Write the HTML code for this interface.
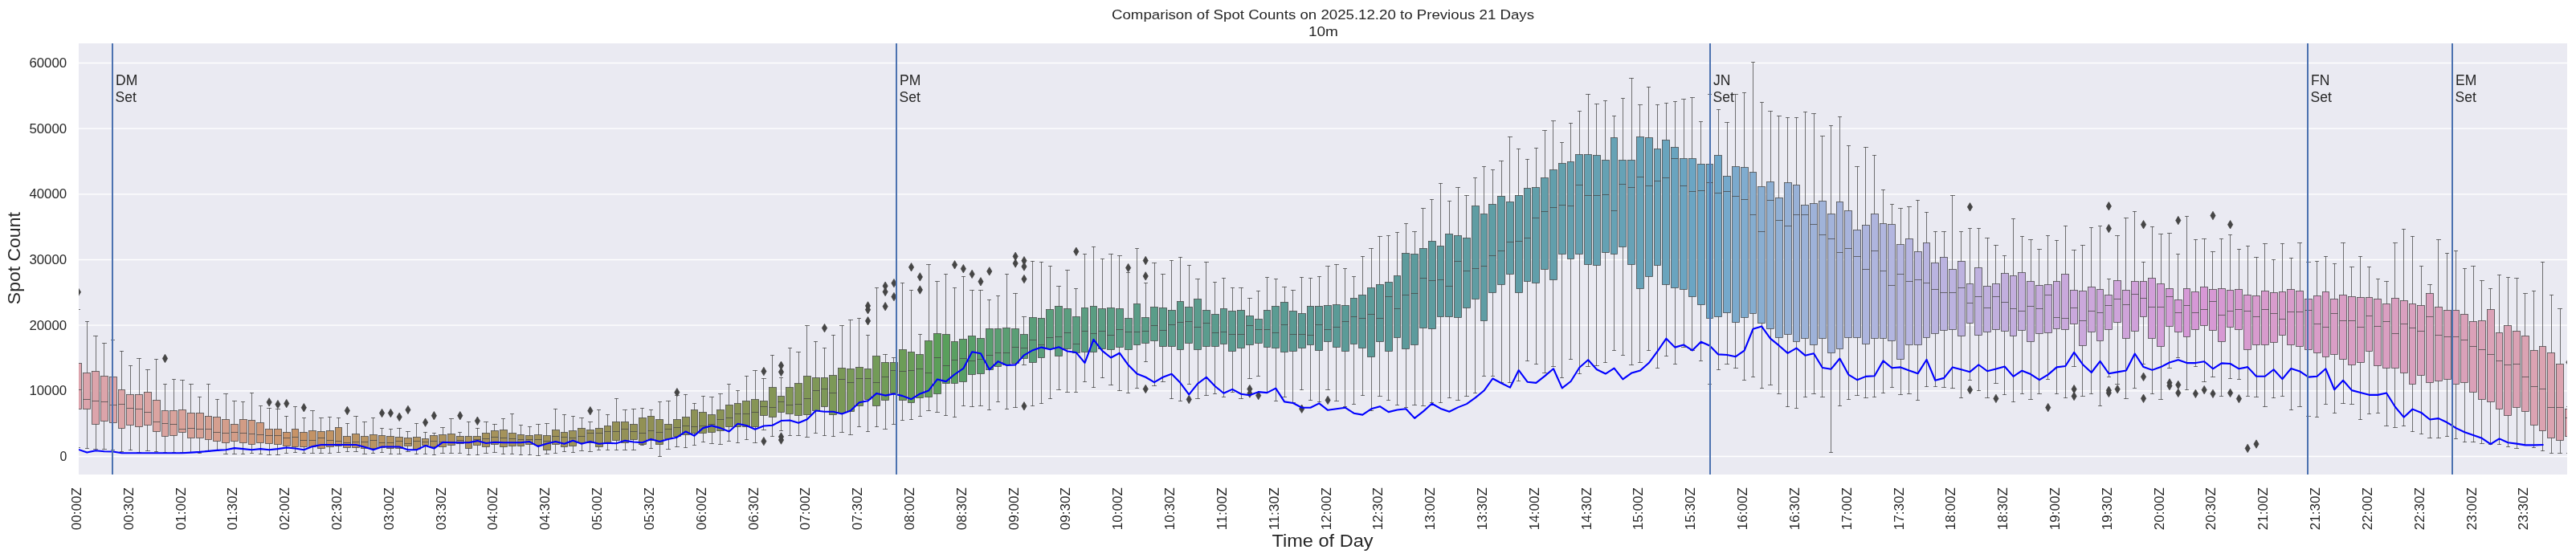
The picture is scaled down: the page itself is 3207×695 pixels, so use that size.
<!DOCTYPE html>
<html><head><meta charset="utf-8"><title>Spot Counts</title><style>html,body{margin:0;padding:0;background:#fff;width:3207px;height:695px;overflow:hidden}</style></head><body>
<svg width="3207" height="695" viewBox="0 0 3207 695" style="display:block;will-change:transform">
<defs><clipPath id="pc"><rect x="98" y="54" width="3098" height="537"/></clipPath></defs>
<rect x="0" y="0" width="3207" height="695" fill="#ffffff"/>
<rect x="98" y="54" width="3098" height="537" fill="#eaeaf2"/>
<line x1="98" x2="3196" y1="568.50" y2="568.50" stroke="#ffffff" stroke-width="1.4"/>
<line x1="98" x2="3196" y1="486.83" y2="486.83" stroke="#ffffff" stroke-width="1.4"/>
<line x1="98" x2="3196" y1="405.17" y2="405.17" stroke="#ffffff" stroke-width="1.4"/>
<line x1="98" x2="3196" y1="323.50" y2="323.50" stroke="#ffffff" stroke-width="1.4"/>
<line x1="98" x2="3196" y1="241.83" y2="241.83" stroke="#ffffff" stroke-width="1.4"/>
<line x1="98" x2="3196" y1="160.16" y2="160.16" stroke="#ffffff" stroke-width="1.4"/>
<line x1="98" x2="3196" y1="78.50" y2="78.50" stroke="#ffffff" stroke-width="1.4"/>
<g clip-path="url(#pc)">
<path d="M97.5 452.5V385.5M95.5 385.5H99.5M97.5 509.5V557.5M95.5 557.5H99.5" stroke="#454545" stroke-width="0.75" stroke-linecap="square" fill="none"/>
<rect x="93.5" y="452.5" width="8.0" height="57.0" fill="#dca4ad" stroke="#454545" stroke-width="0.75"/>
<path d="M93.5 485.5H101.5" stroke="#454545" stroke-width="0.75"/>
<path d="M97.45 358.55L100.55 363.75L97.45 368.95L94.35 363.75Z" fill="#454545" stroke="#454545" stroke-width="0.8" stroke-linejoin="round"/>
<path d="M108.5 464.5V400.5M106.5 400.5H110.5M108.5 509.5V558.5M106.5 558.5H110.5" stroke="#454545" stroke-width="0.75" stroke-linecap="square" fill="none"/>
<rect x="103.5" y="464.5" width="9.0" height="45.0" fill="#dca4ac" stroke="#454545" stroke-width="0.75"/>
<path d="M103.5 497.5H112.5" stroke="#454545" stroke-width="0.75"/>
<path d="M119.5 462.5V418.5M116.5 418.5H121.5M119.5 528.5V559.5M116.5 559.5H121.5" stroke="#454545" stroke-width="0.75" stroke-linecap="square" fill="none"/>
<rect x="114.5" y="462.5" width="9.0" height="66.0" fill="#dca4ab" stroke="#454545" stroke-width="0.75"/>
<path d="M114.5 499.5H123.5" stroke="#454545" stroke-width="0.75"/>
<path d="M129.5 468.5V427.5M127.5 427.5H132.5M129.5 524.5V559.5M127.5 559.5H132.5" stroke="#454545" stroke-width="0.75" stroke-linecap="square" fill="none"/>
<rect x="125.5" y="468.5" width="9.0" height="56.0" fill="#dca4aa" stroke="#454545" stroke-width="0.75"/>
<path d="M125.5 500.5H134.5" stroke="#454545" stroke-width="0.75"/>
<path d="M140.5 469.5V423.5M138.5 423.5H142.5M140.5 526.5V560.5M138.5 560.5H142.5" stroke="#454545" stroke-width="0.75" stroke-linecap="square" fill="none"/>
<rect x="136.5" y="469.5" width="9.0" height="57.0" fill="#dca5a8" stroke="#454545" stroke-width="0.75"/>
<path d="M136.5 504.5H145.5" stroke="#454545" stroke-width="0.75"/>
<path d="M151.5 485.5V437.5M149.5 437.5H153.5M151.5 533.5V562.5M149.5 562.5H153.5" stroke="#454545" stroke-width="0.75" stroke-linecap="square" fill="none"/>
<rect x="147.5" y="485.5" width="8.0" height="48.0" fill="#dca5a7" stroke="#454545" stroke-width="0.75"/>
<path d="M147.5 503.5H155.5" stroke="#454545" stroke-width="0.75"/>
<path d="M162.5 491.5V455.5M160.5 455.5H164.5M162.5 529.5V560.5M160.5 560.5H164.5" stroke="#454545" stroke-width="0.75" stroke-linecap="square" fill="none"/>
<rect x="157.5" y="491.5" width="9.0" height="38.0" fill="#dca5a6" stroke="#454545" stroke-width="0.75"/>
<path d="M157.5 508.5H166.5" stroke="#454545" stroke-width="0.75"/>
<path d="M173.5 491.5V446.5M170.5 446.5H175.5M173.5 531.5V563.5M170.5 563.5H175.5" stroke="#454545" stroke-width="0.75" stroke-linecap="square" fill="none"/>
<rect x="168.5" y="491.5" width="9.0" height="40.0" fill="#dca5a5" stroke="#454545" stroke-width="0.75"/>
<path d="M168.5 509.5H177.5" stroke="#454545" stroke-width="0.75"/>
<path d="M183.5 488.5V460.5M181.5 460.5H186.5M183.5 529.5V561.5M181.5 561.5H186.5" stroke="#454545" stroke-width="0.75" stroke-linecap="square" fill="none"/>
<rect x="179.5" y="488.5" width="9.0" height="41.0" fill="#dba4a3" stroke="#454545" stroke-width="0.75"/>
<path d="M179.5 513.5H188.5" stroke="#454545" stroke-width="0.75"/>
<path d="M194.5 498.5V447.5M192.5 447.5H196.5M194.5 537.5V562.5M192.5 562.5H196.5" stroke="#454545" stroke-width="0.75" stroke-linecap="square" fill="none"/>
<rect x="190.5" y="498.5" width="9.0" height="39.0" fill="#dba4a1" stroke="#454545" stroke-width="0.75"/>
<path d="M190.5 525.5H199.5" stroke="#454545" stroke-width="0.75"/>
<path d="M205.5 511.5V478.5M203.5 478.5H207.5M205.5 543.5V563.5M203.5 563.5H207.5" stroke="#454545" stroke-width="0.75" stroke-linecap="square" fill="none"/>
<rect x="201.5" y="511.5" width="8.0" height="32.0" fill="#daa39f" stroke="#454545" stroke-width="0.75"/>
<path d="M201.5 527.5H209.5" stroke="#454545" stroke-width="0.75"/>
<path d="M205.48 441.26L208.58 446.46L205.48 451.66L202.38 446.46Z" fill="#454545" stroke="#454545" stroke-width="0.8" stroke-linejoin="round"/>
<path d="M216.5 511.5V472.5M214.5 472.5H218.5M216.5 542.5V563.5M214.5 563.5H218.5" stroke="#454545" stroke-width="0.75" stroke-linecap="square" fill="none"/>
<rect x="211.5" y="511.5" width="9.0" height="31.0" fill="#d9a39c" stroke="#454545" stroke-width="0.75"/>
<path d="M211.5 528.5H220.5" stroke="#454545" stroke-width="0.75"/>
<path d="M227.5 510.5V473.5M224.5 473.5H229.5M227.5 538.5V563.5M224.5 563.5H229.5" stroke="#454545" stroke-width="0.75" stroke-linecap="square" fill="none"/>
<rect x="222.5" y="510.5" width="9.0" height="28.0" fill="#d9a29a" stroke="#454545" stroke-width="0.75"/>
<path d="M222.5 534.5H231.5" stroke="#454545" stroke-width="0.75"/>
<path d="M237.5 514.5V478.5M235.5 478.5H240.5M237.5 545.5V563.5M235.5 563.5H240.5" stroke="#454545" stroke-width="0.75" stroke-linecap="square" fill="none"/>
<rect x="233.5" y="514.5" width="9.0" height="31.0" fill="#d8a197" stroke="#454545" stroke-width="0.75"/>
<path d="M233.5 533.5H242.5" stroke="#454545" stroke-width="0.75"/>
<path d="M248.5 514.5V494.5M246.5 494.5H250.5M248.5 545.5V564.5M246.5 564.5H250.5" stroke="#454545" stroke-width="0.75" stroke-linecap="square" fill="none"/>
<rect x="244.5" y="514.5" width="9.0" height="31.0" fill="#d7a195" stroke="#454545" stroke-width="0.75"/>
<path d="M244.5 534.5H253.5" stroke="#454545" stroke-width="0.75"/>
<path d="M259.5 518.5V478.5M257.5 478.5H261.5M259.5 547.5V562.5M257.5 562.5H261.5" stroke="#454545" stroke-width="0.75" stroke-linecap="square" fill="none"/>
<rect x="255.5" y="518.5" width="8.0" height="29.0" fill="#d6a092" stroke="#454545" stroke-width="0.75"/>
<path d="M255.5 534.5H263.5" stroke="#454545" stroke-width="0.75"/>
<path d="M270.5 519.5V497.5M268.5 497.5H272.5M270.5 549.5V561.5M268.5 561.5H272.5" stroke="#454545" stroke-width="0.75" stroke-linecap="square" fill="none"/>
<rect x="265.5" y="519.5" width="9.0" height="30.0" fill="#d59f8f" stroke="#454545" stroke-width="0.75"/>
<path d="M265.5 538.5H274.5" stroke="#454545" stroke-width="0.75"/>
<path d="M281.5 522.5V490.5M278.5 490.5H283.5M281.5 551.5V565.5M278.5 565.5H283.5" stroke="#454545" stroke-width="0.75" stroke-linecap="square" fill="none"/>
<rect x="276.5" y="522.5" width="9.0" height="29.0" fill="#d49e8c" stroke="#454545" stroke-width="0.75"/>
<path d="M276.5 539.5H285.5" stroke="#454545" stroke-width="0.75"/>
<path d="M291.5 528.5V499.5M289.5 499.5H294.5M291.5 549.5V565.5M289.5 565.5H294.5" stroke="#454545" stroke-width="0.75" stroke-linecap="square" fill="none"/>
<rect x="287.5" y="528.5" width="9.0" height="21.0" fill="#d39d88" stroke="#454545" stroke-width="0.75"/>
<path d="M287.5 538.5H296.5" stroke="#454545" stroke-width="0.75"/>
<path d="M302.5 522.5V500.5M300.5 500.5H304.5M302.5 551.5V565.5M300.5 565.5H304.5" stroke="#454545" stroke-width="0.75" stroke-linecap="square" fill="none"/>
<rect x="298.5" y="522.5" width="9.0" height="29.0" fill="#d29c85" stroke="#454545" stroke-width="0.75"/>
<path d="M298.5 539.5H307.5" stroke="#454545" stroke-width="0.75"/>
<path d="M313.5 523.5V489.5M311.5 489.5H315.5M313.5 553.5V564.5M311.5 564.5H315.5" stroke="#454545" stroke-width="0.75" stroke-linecap="square" fill="none"/>
<rect x="309.5" y="523.5" width="8.0" height="30.0" fill="#d09b81" stroke="#454545" stroke-width="0.75"/>
<path d="M309.5 540.5H317.5" stroke="#454545" stroke-width="0.75"/>
<path d="M324.5 526.5V505.5M322.5 505.5H326.5M324.5 551.5V565.5M322.5 565.5H326.5" stroke="#454545" stroke-width="0.75" stroke-linecap="square" fill="none"/>
<rect x="319.5" y="526.5" width="9.0" height="25.0" fill="#cf997c" stroke="#454545" stroke-width="0.75"/>
<path d="M319.5 541.5H328.5" stroke="#454545" stroke-width="0.75"/>
<path d="M335.5 534.5V508.5M332.5 508.5H337.5M335.5 552.5V566.5M332.5 566.5H337.5" stroke="#454545" stroke-width="0.75" stroke-linecap="square" fill="none"/>
<rect x="330.5" y="534.5" width="9.0" height="18.0" fill="#cd9877" stroke="#454545" stroke-width="0.75"/>
<path d="M330.5 542.5H339.5" stroke="#454545" stroke-width="0.75"/>
<path d="M335.12 495.72L338.22 500.92L335.12 506.12L332.02 500.92Z" fill="#454545" stroke="#454545" stroke-width="0.8" stroke-linejoin="round"/>
<path d="M345.5 534.5V509.5M343.5 509.5H348.5M345.5 553.5V566.5M343.5 566.5H348.5" stroke="#454545" stroke-width="0.75" stroke-linecap="square" fill="none"/>
<rect x="341.5" y="534.5" width="9.0" height="19.0" fill="#cb9671" stroke="#454545" stroke-width="0.75"/>
<path d="M341.5 542.5H350.5" stroke="#454545" stroke-width="0.75"/>
<path d="M345.92 498.44L349.02 503.64L345.92 508.84L342.82 503.64Z" fill="#454545" stroke="#454545" stroke-width="0.8" stroke-linejoin="round"/>
<path d="M356.5 538.5V518.5M354.5 518.5H358.5M356.5 555.5V564.5M354.5 564.5H358.5" stroke="#454545" stroke-width="0.75" stroke-linecap="square" fill="none"/>
<rect x="352.5" y="538.5" width="9.0" height="17.0" fill="#c9946a" stroke="#454545" stroke-width="0.75"/>
<path d="M352.5 545.5H361.5" stroke="#454545" stroke-width="0.75"/>
<path d="M356.72 497.42L359.82 502.62L356.72 507.82L353.62 502.62Z" fill="#454545" stroke="#454545" stroke-width="0.8" stroke-linejoin="round"/>
<path d="M367.5 534.5V506.5M365.5 506.5H369.5M367.5 556.5V563.5M365.5 563.5H369.5" stroke="#454545" stroke-width="0.75" stroke-linecap="square" fill="none"/>
<rect x="363.5" y="534.5" width="8.0" height="22.0" fill="#c79367" stroke="#454545" stroke-width="0.75"/>
<path d="M363.5 544.5H371.5" stroke="#454545" stroke-width="0.75"/>
<path d="M378.5 538.5V520.5M376.5 520.5H380.5M378.5 556.5V564.5M376.5 564.5H380.5" stroke="#454545" stroke-width="0.75" stroke-linecap="square" fill="none"/>
<rect x="373.5" y="538.5" width="9.0" height="18.0" fill="#c59366" stroke="#454545" stroke-width="0.75"/>
<path d="M373.5 548.5H382.5" stroke="#454545" stroke-width="0.75"/>
<path d="M378.33 502.53L381.43 507.73L378.33 512.93L375.23 507.73Z" fill="#454545" stroke="#454545" stroke-width="0.8" stroke-linejoin="round"/>
<path d="M389.5 536.5V511.5M386.5 511.5H391.5M389.5 556.5V564.5M386.5 564.5H391.5" stroke="#454545" stroke-width="0.75" stroke-linecap="square" fill="none"/>
<rect x="384.5" y="536.5" width="9.0" height="20.0" fill="#c39366" stroke="#454545" stroke-width="0.75"/>
<path d="M384.5 548.5H393.5" stroke="#454545" stroke-width="0.75"/>
<path d="M399.5 537.5V520.5M397.5 520.5H402.5M399.5 558.5V564.5M397.5 564.5H402.5" stroke="#454545" stroke-width="0.75" stroke-linecap="square" fill="none"/>
<rect x="395.5" y="537.5" width="9.0" height="21.0" fill="#c19365" stroke="#454545" stroke-width="0.75"/>
<path d="M395.5 545.5H404.5" stroke="#454545" stroke-width="0.75"/>
<path d="M410.5 536.5V519.5M408.5 519.5H412.5M410.5 556.5V564.5M408.5 564.5H412.5" stroke="#454545" stroke-width="0.75" stroke-linecap="square" fill="none"/>
<rect x="406.5" y="536.5" width="9.0" height="20.0" fill="#c09364" stroke="#454545" stroke-width="0.75"/>
<path d="M406.5 548.5H415.5" stroke="#454545" stroke-width="0.75"/>
<path d="M421.5 532.5V520.5M419.5 520.5H423.5M421.5 555.5V563.5M419.5 563.5H423.5" stroke="#454545" stroke-width="0.75" stroke-linecap="square" fill="none"/>
<rect x="417.5" y="532.5" width="8.0" height="23.0" fill="#be9364" stroke="#454545" stroke-width="0.75"/>
<path d="M417.5 549.5H425.5" stroke="#454545" stroke-width="0.75"/>
<path d="M432.5 543.5V527.5M430.5 527.5H434.5M432.5 557.5V562.5M430.5 562.5H434.5" stroke="#454545" stroke-width="0.75" stroke-linecap="square" fill="none"/>
<rect x="427.5" y="543.5" width="9.0" height="14.0" fill="#bd9363" stroke="#454545" stroke-width="0.75"/>
<path d="M427.5 551.5H436.5" stroke="#454545" stroke-width="0.75"/>
<path d="M432.34 506.27L435.44 511.47L432.34 516.67L429.24 511.47Z" fill="#454545" stroke="#454545" stroke-width="0.8" stroke-linejoin="round"/>
<path d="M443.5 540.5V518.5M440.5 518.5H445.5M443.5 557.5V562.5M440.5 562.5H445.5" stroke="#454545" stroke-width="0.75" stroke-linecap="square" fill="none"/>
<rect x="438.5" y="540.5" width="9.0" height="17.0" fill="#bb9463" stroke="#454545" stroke-width="0.75"/>
<path d="M438.5 550.5H447.5" stroke="#454545" stroke-width="0.75"/>
<path d="M453.5 543.5V525.5M451.5 525.5H456.5M453.5 558.5V565.5M451.5 565.5H456.5" stroke="#454545" stroke-width="0.75" stroke-linecap="square" fill="none"/>
<rect x="449.5" y="543.5" width="9.0" height="15.0" fill="#b99462" stroke="#454545" stroke-width="0.75"/>
<path d="M449.5 550.5H458.5" stroke="#454545" stroke-width="0.75"/>
<path d="M464.5 541.5V520.5M462.5 520.5H466.5M464.5 558.5V564.5M462.5 564.5H466.5" stroke="#454545" stroke-width="0.75" stroke-linecap="square" fill="none"/>
<rect x="460.5" y="541.5" width="9.0" height="17.0" fill="#b89462" stroke="#454545" stroke-width="0.75"/>
<path d="M460.5 548.5H469.5" stroke="#454545" stroke-width="0.75"/>
<path d="M475.5 542.5V533.5M473.5 533.5H477.5M475.5 557.5V563.5M473.5 563.5H477.5" stroke="#454545" stroke-width="0.75" stroke-linecap="square" fill="none"/>
<rect x="471.5" y="542.5" width="8.0" height="15.0" fill="#b79361" stroke="#454545" stroke-width="0.75"/>
<path d="M471.5 551.5H479.5" stroke="#454545" stroke-width="0.75"/>
<path d="M475.56 509.33L478.66 514.53L475.56 519.73L472.45 514.53Z" fill="#454545" stroke="#454545" stroke-width="0.8" stroke-linejoin="round"/>
<path d="M486.5 543.5V534.5M484.5 534.5H488.5M486.5 558.5V565.5M484.5 565.5H488.5" stroke="#454545" stroke-width="0.75" stroke-linecap="square" fill="none"/>
<rect x="481.5" y="543.5" width="9.0" height="15.0" fill="#b59361" stroke="#454545" stroke-width="0.75"/>
<path d="M481.5 551.5H490.5" stroke="#454545" stroke-width="0.75"/>
<path d="M486.36 509.33L489.46 514.53L486.36 519.73L483.26 514.53Z" fill="#454545" stroke="#454545" stroke-width="0.8" stroke-linejoin="round"/>
<path d="M497.5 544.5V533.5M494.5 533.5H499.5M497.5 558.5V565.5M494.5 565.5H499.5" stroke="#454545" stroke-width="0.75" stroke-linecap="square" fill="none"/>
<rect x="492.5" y="544.5" width="9.0" height="14.0" fill="#b49360" stroke="#454545" stroke-width="0.75"/>
<path d="M492.5 549.5H501.5" stroke="#454545" stroke-width="0.75"/>
<path d="M497.16 514.10L500.26 519.30L497.16 524.50L494.06 519.30Z" fill="#454545" stroke="#454545" stroke-width="0.8" stroke-linejoin="round"/>
<path d="M507.5 545.5V537.5M505.5 537.5H510.5M507.5 555.5V562.5M505.5 562.5H510.5" stroke="#454545" stroke-width="0.75" stroke-linecap="square" fill="none"/>
<rect x="503.5" y="545.5" width="9.0" height="10.0" fill="#b29360" stroke="#454545" stroke-width="0.75"/>
<path d="M503.5 552.5H512.5" stroke="#454545" stroke-width="0.75"/>
<path d="M507.96 505.25L511.06 510.45L507.96 515.65L504.86 510.45Z" fill="#454545" stroke="#454545" stroke-width="0.8" stroke-linejoin="round"/>
<path d="M518.5 544.5V527.5M516.5 527.5H520.5M518.5 559.5V565.5M516.5 565.5H520.5" stroke="#454545" stroke-width="0.75" stroke-linecap="square" fill="none"/>
<rect x="514.5" y="544.5" width="9.0" height="15.0" fill="#b1935f" stroke="#454545" stroke-width="0.75"/>
<path d="M514.5 549.5H523.5" stroke="#454545" stroke-width="0.75"/>
<path d="M529.5 546.5V538.5M527.5 538.5H531.5M529.5 554.5V565.5M527.5 565.5H531.5" stroke="#454545" stroke-width="0.75" stroke-linecap="square" fill="none"/>
<rect x="525.5" y="546.5" width="8.0" height="8.0" fill="#b0935f" stroke="#454545" stroke-width="0.75"/>
<path d="M525.5 550.5H533.5" stroke="#454545" stroke-width="0.75"/>
<path d="M529.57 520.97L532.67 526.17L529.57 531.37L526.47 526.17Z" fill="#454545" stroke="#454545" stroke-width="0.8" stroke-linejoin="round"/>
<path d="M540.5 542.5V539.5M538.5 539.5H542.5M540.5 556.5V566.5M538.5 566.5H542.5" stroke="#454545" stroke-width="0.75" stroke-linecap="square" fill="none"/>
<rect x="535.5" y="542.5" width="9.0" height="14.0" fill="#af935f" stroke="#454545" stroke-width="0.75"/>
<path d="M535.5 549.5H544.5" stroke="#454545" stroke-width="0.75"/>
<path d="M540.37 512.51L543.47 517.71L540.37 522.91L537.27 517.71Z" fill="#454545" stroke="#454545" stroke-width="0.8" stroke-linejoin="round"/>
<path d="M551.5 541.5V532.5M548.5 532.5H553.5M551.5 556.5V564.5M548.5 564.5H553.5" stroke="#454545" stroke-width="0.75" stroke-linecap="square" fill="none"/>
<rect x="546.5" y="541.5" width="9.0" height="15.0" fill="#ad935e" stroke="#454545" stroke-width="0.75"/>
<path d="M546.5 550.5H555.5" stroke="#454545" stroke-width="0.75"/>
<path d="M561.5 540.5V521.5M559.5 521.5H564.5M561.5 554.5V564.5M559.5 564.5H564.5" stroke="#454545" stroke-width="0.75" stroke-linecap="square" fill="none"/>
<rect x="557.5" y="540.5" width="9.0" height="14.0" fill="#ac935e" stroke="#454545" stroke-width="0.75"/>
<path d="M557.5 550.5H566.5" stroke="#454545" stroke-width="0.75"/>
<path d="M572.5 543.5V538.5M570.5 538.5H574.5M572.5 552.5V564.5M570.5 564.5H574.5" stroke="#454545" stroke-width="0.75" stroke-linecap="square" fill="none"/>
<rect x="568.5" y="543.5" width="9.0" height="9.0" fill="#ab935d" stroke="#454545" stroke-width="0.75"/>
<path d="M568.5 548.5H577.5" stroke="#454545" stroke-width="0.75"/>
<path d="M572.78 512.51L575.88 517.71L572.78 522.91L569.68 517.71Z" fill="#454545" stroke="#454545" stroke-width="0.8" stroke-linejoin="round"/>
<path d="M583.5 543.5V525.5M581.5 525.5H585.5M583.5 558.5V566.5M581.5 566.5H585.5" stroke="#454545" stroke-width="0.75" stroke-linecap="square" fill="none"/>
<rect x="579.5" y="543.5" width="8.0" height="15.0" fill="#aa935d" stroke="#454545" stroke-width="0.75"/>
<path d="M579.5 550.5H587.5" stroke="#454545" stroke-width="0.75"/>
<path d="M594.5 543.5V533.5M592.5 533.5H596.5M594.5 554.5V566.5M592.5 566.5H596.5" stroke="#454545" stroke-width="0.75" stroke-linecap="square" fill="none"/>
<rect x="589.5" y="543.5" width="9.0" height="11.0" fill="#a8935c" stroke="#454545" stroke-width="0.75"/>
<path d="M589.5 547.5H598.5" stroke="#454545" stroke-width="0.75"/>
<path d="M594.39 519.04L597.49 524.24L594.39 529.44L591.29 524.24Z" fill="#454545" stroke="#454545" stroke-width="0.8" stroke-linejoin="round"/>
<path d="M605.5 539.5V525.5M602.5 525.5H607.5M605.5 556.5V564.5M602.5 564.5H607.5" stroke="#454545" stroke-width="0.75" stroke-linecap="square" fill="none"/>
<rect x="600.5" y="539.5" width="9.0" height="17.0" fill="#a7935c" stroke="#454545" stroke-width="0.75"/>
<path d="M600.5 546.5H609.5" stroke="#454545" stroke-width="0.75"/>
<path d="M615.5 536.5V528.5M613.5 528.5H618.5M615.5 553.5V563.5M613.5 563.5H618.5" stroke="#454545" stroke-width="0.75" stroke-linecap="square" fill="none"/>
<rect x="611.5" y="536.5" width="9.0" height="17.0" fill="#a6935c" stroke="#454545" stroke-width="0.75"/>
<path d="M611.5 544.5H620.5" stroke="#454545" stroke-width="0.75"/>
<path d="M626.5 535.5V521.5M624.5 521.5H628.5M626.5 556.5V565.5M624.5 565.5H628.5" stroke="#454545" stroke-width="0.75" stroke-linecap="square" fill="none"/>
<rect x="622.5" y="535.5" width="9.0" height="21.0" fill="#a5935b" stroke="#454545" stroke-width="0.75"/>
<path d="M622.5 545.5H631.5" stroke="#454545" stroke-width="0.75"/>
<path d="M637.5 539.5V515.5M635.5 515.5H639.5M637.5 555.5V565.5M635.5 565.5H639.5" stroke="#454545" stroke-width="0.75" stroke-linecap="square" fill="none"/>
<rect x="633.5" y="539.5" width="9.0" height="16.0" fill="#a4935b" stroke="#454545" stroke-width="0.75"/>
<path d="M633.5 546.5H642.5" stroke="#454545" stroke-width="0.75"/>
<path d="M648.5 541.5V529.5M646.5 529.5H650.5M648.5 555.5V566.5M646.5 566.5H650.5" stroke="#454545" stroke-width="0.75" stroke-linecap="square" fill="none"/>
<rect x="644.5" y="541.5" width="8.0" height="14.0" fill="#a2925a" stroke="#454545" stroke-width="0.75"/>
<path d="M644.5 547.5H652.5" stroke="#454545" stroke-width="0.75"/>
<path d="M659.5 542.5V531.5M657.5 531.5H661.5M659.5 553.5V566.5M657.5 566.5H661.5" stroke="#454545" stroke-width="0.75" stroke-linecap="square" fill="none"/>
<rect x="654.5" y="542.5" width="9.0" height="11.0" fill="#a1925a" stroke="#454545" stroke-width="0.75"/>
<path d="M654.5 547.5H663.5" stroke="#454545" stroke-width="0.75"/>
<path d="M670.5 541.5V528.5M667.5 528.5H672.5M670.5 554.5V567.5M667.5 567.5H672.5" stroke="#454545" stroke-width="0.75" stroke-linecap="square" fill="none"/>
<rect x="665.5" y="541.5" width="9.0" height="13.0" fill="#a0925a" stroke="#454545" stroke-width="0.75"/>
<path d="M665.5 547.5H674.5" stroke="#454545" stroke-width="0.75"/>
<path d="M680.5 542.5V527.5M678.5 527.5H683.5M680.5 560.5V565.5M678.5 565.5H683.5" stroke="#454545" stroke-width="0.75" stroke-linecap="square" fill="none"/>
<rect x="676.5" y="542.5" width="9.0" height="18.0" fill="#9f9259" stroke="#454545" stroke-width="0.75"/>
<path d="M676.5 549.5H685.5" stroke="#454545" stroke-width="0.75"/>
<path d="M691.5 535.5V509.5M689.5 509.5H693.5M691.5 553.5V564.5M689.5 564.5H693.5" stroke="#454545" stroke-width="0.75" stroke-linecap="square" fill="none"/>
<rect x="687.5" y="535.5" width="9.0" height="18.0" fill="#9e9259" stroke="#454545" stroke-width="0.75"/>
<path d="M687.5 543.5H696.5" stroke="#454545" stroke-width="0.75"/>
<path d="M702.5 538.5V516.5M700.5 516.5H704.5M702.5 556.5V562.5M700.5 562.5H704.5" stroke="#454545" stroke-width="0.75" stroke-linecap="square" fill="none"/>
<rect x="698.5" y="538.5" width="8.0" height="18.0" fill="#9d9258" stroke="#454545" stroke-width="0.75"/>
<path d="M698.5 544.5H706.5" stroke="#454545" stroke-width="0.75"/>
<path d="M713.5 536.5V518.5M711.5 518.5H715.5M713.5 555.5V563.5M711.5 563.5H715.5" stroke="#454545" stroke-width="0.75" stroke-linecap="square" fill="none"/>
<rect x="708.5" y="536.5" width="9.0" height="19.0" fill="#9b9258" stroke="#454545" stroke-width="0.75"/>
<path d="M708.5 545.5H717.5" stroke="#454545" stroke-width="0.75"/>
<path d="M724.5 533.5V520.5M721.5 520.5H726.5M724.5 551.5V561.5M721.5 561.5H726.5" stroke="#454545" stroke-width="0.75" stroke-linecap="square" fill="none"/>
<rect x="719.5" y="533.5" width="9.0" height="18.0" fill="#9a9258" stroke="#454545" stroke-width="0.75"/>
<path d="M719.5 543.5H728.5" stroke="#454545" stroke-width="0.75"/>
<path d="M734.5 535.5V525.5M732.5 525.5H737.5M734.5 551.5V562.5M732.5 562.5H737.5" stroke="#454545" stroke-width="0.75" stroke-linecap="square" fill="none"/>
<rect x="730.5" y="535.5" width="9.0" height="16.0" fill="#999157" stroke="#454545" stroke-width="0.75"/>
<path d="M730.5 539.5H739.5" stroke="#454545" stroke-width="0.75"/>
<path d="M734.83 506.46L737.93 511.66L734.83 516.86L731.73 511.66Z" fill="#454545" stroke="#454545" stroke-width="0.8" stroke-linejoin="round"/>
<path d="M745.5 533.5V510.5M743.5 510.5H747.5M745.5 556.5V560.5M743.5 560.5H747.5" stroke="#454545" stroke-width="0.75" stroke-linecap="square" fill="none"/>
<rect x="741.5" y="533.5" width="9.0" height="23.0" fill="#989157" stroke="#454545" stroke-width="0.75"/>
<path d="M741.5 539.5H750.5" stroke="#454545" stroke-width="0.75"/>
<path d="M756.5 530.5V516.5M754.5 516.5H758.5M756.5 551.5V560.5M754.5 560.5H758.5" stroke="#454545" stroke-width="0.75" stroke-linecap="square" fill="none"/>
<rect x="752.5" y="530.5" width="8.0" height="21.0" fill="#979156" stroke="#454545" stroke-width="0.75"/>
<path d="M752.5 537.5H760.5" stroke="#454545" stroke-width="0.75"/>
<path d="M767.5 525.5V496.5M765.5 496.5H769.5M767.5 548.5V560.5M765.5 560.5H769.5" stroke="#454545" stroke-width="0.75" stroke-linecap="square" fill="none"/>
<rect x="762.5" y="525.5" width="9.0" height="23.0" fill="#959156" stroke="#454545" stroke-width="0.75"/>
<path d="M762.5 537.5H771.5" stroke="#454545" stroke-width="0.75"/>
<path d="M778.5 525.5V510.5M775.5 510.5H780.5M778.5 551.5V560.5M775.5 560.5H780.5" stroke="#454545" stroke-width="0.75" stroke-linecap="square" fill="none"/>
<rect x="773.5" y="525.5" width="9.0" height="26.0" fill="#949156" stroke="#454545" stroke-width="0.75"/>
<path d="M773.5 534.5H782.5" stroke="#454545" stroke-width="0.75"/>
<path d="M788.5 528.5V509.5M786.5 509.5H791.5M788.5 547.5V560.5M786.5 560.5H791.5" stroke="#454545" stroke-width="0.75" stroke-linecap="square" fill="none"/>
<rect x="784.5" y="528.5" width="9.0" height="19.0" fill="#939155" stroke="#454545" stroke-width="0.75"/>
<path d="M784.5 537.5H793.5" stroke="#454545" stroke-width="0.75"/>
<path d="M799.5 520.5V508.5M797.5 508.5H801.5M799.5 553.5V554.5M797.5 554.5H801.5" stroke="#454545" stroke-width="0.75" stroke-linecap="square" fill="none"/>
<rect x="795.5" y="520.5" width="9.0" height="33.0" fill="#929155" stroke="#454545" stroke-width="0.75"/>
<path d="M795.5 539.5H804.5" stroke="#454545" stroke-width="0.75"/>
<path d="M810.5 518.5V510.5M808.5 510.5H812.5M810.5 548.5V558.5M808.5 558.5H812.5" stroke="#454545" stroke-width="0.75" stroke-linecap="square" fill="none"/>
<rect x="806.5" y="518.5" width="8.0" height="30.0" fill="#909054" stroke="#454545" stroke-width="0.75"/>
<path d="M806.5 536.5H814.5" stroke="#454545" stroke-width="0.75"/>
<path d="M821.5 522.5V500.5M819.5 500.5H823.5M821.5 553.5V568.5M819.5 568.5H823.5" stroke="#454545" stroke-width="0.75" stroke-linecap="square" fill="none"/>
<rect x="816.5" y="522.5" width="9.0" height="31.0" fill="#909154" stroke="#454545" stroke-width="0.75"/>
<path d="M816.5 538.5H825.5" stroke="#454545" stroke-width="0.75"/>
<path d="M832.5 528.5V499.5M829.5 499.5H834.5M832.5 546.5V559.5M829.5 559.5H834.5" stroke="#454545" stroke-width="0.75" stroke-linecap="square" fill="none"/>
<rect x="827.5" y="528.5" width="9.0" height="18.0" fill="#8f9155" stroke="#454545" stroke-width="0.75"/>
<path d="M827.5 534.5H836.5" stroke="#454545" stroke-width="0.75"/>
<path d="M842.5 522.5V492.5M840.5 492.5H845.5M842.5 543.5V556.5M840.5 556.5H845.5" stroke="#454545" stroke-width="0.75" stroke-linecap="square" fill="none"/>
<rect x="838.5" y="522.5" width="9.0" height="21.0" fill="#8e9255" stroke="#454545" stroke-width="0.75"/>
<path d="M838.5 532.5H847.5" stroke="#454545" stroke-width="0.75"/>
<path d="M842.86 483.48L845.96 488.68L842.86 493.88L839.76 488.68Z" fill="#454545" stroke="#454545" stroke-width="0.8" stroke-linejoin="round"/>
<path d="M853.5 519.5V491.5M851.5 491.5H855.5M853.5 541.5V557.5M851.5 557.5H855.5" stroke="#454545" stroke-width="0.75" stroke-linecap="square" fill="none"/>
<rect x="849.5" y="519.5" width="9.0" height="22.0" fill="#8d9255" stroke="#454545" stroke-width="0.75"/>
<path d="M849.5 530.5H858.5" stroke="#454545" stroke-width="0.75"/>
<path d="M864.5 510.5V502.5M862.5 502.5H866.5M864.5 539.5V554.5M862.5 554.5H866.5" stroke="#454545" stroke-width="0.75" stroke-linecap="square" fill="none"/>
<rect x="860.5" y="510.5" width="8.0" height="29.0" fill="#8d9255" stroke="#454545" stroke-width="0.75"/>
<path d="M860.5 531.5H868.5" stroke="#454545" stroke-width="0.75"/>
<path d="M875.5 513.5V493.5M873.5 493.5H877.5M875.5 539.5V550.5M873.5 550.5H877.5" stroke="#454545" stroke-width="0.75" stroke-linecap="square" fill="none"/>
<rect x="870.5" y="513.5" width="9.0" height="26.0" fill="#8c9355" stroke="#454545" stroke-width="0.75"/>
<path d="M870.5 530.5H879.5" stroke="#454545" stroke-width="0.75"/>
<path d="M886.5 516.5V494.5M883.5 494.5H888.5M886.5 538.5V552.5M883.5 552.5H888.5" stroke="#454545" stroke-width="0.75" stroke-linecap="square" fill="none"/>
<rect x="881.5" y="516.5" width="9.0" height="22.0" fill="#8b9355" stroke="#454545" stroke-width="0.75"/>
<path d="M881.5 528.5H890.5" stroke="#454545" stroke-width="0.75"/>
<path d="M896.5 510.5V490.5M894.5 490.5H899.5M896.5 536.5V553.5M894.5 553.5H899.5" stroke="#454545" stroke-width="0.75" stroke-linecap="square" fill="none"/>
<rect x="892.5" y="510.5" width="9.0" height="26.0" fill="#8a9355" stroke="#454545" stroke-width="0.75"/>
<path d="M892.5 522.5H901.5" stroke="#454545" stroke-width="0.75"/>
<path d="M907.5 504.5V478.5M905.5 478.5H909.5M907.5 531.5V549.5M905.5 549.5H909.5" stroke="#454545" stroke-width="0.75" stroke-linecap="square" fill="none"/>
<rect x="903.5" y="504.5" width="9.0" height="27.0" fill="#899455" stroke="#454545" stroke-width="0.75"/>
<path d="M903.5 520.5H912.5" stroke="#454545" stroke-width="0.75"/>
<path d="M918.5 502.5V486.5M916.5 486.5H920.5M918.5 531.5V551.5M916.5 551.5H920.5" stroke="#454545" stroke-width="0.75" stroke-linecap="square" fill="none"/>
<rect x="914.5" y="502.5" width="8.0" height="29.0" fill="#889456" stroke="#454545" stroke-width="0.75"/>
<path d="M914.5 515.5H922.5" stroke="#454545" stroke-width="0.75"/>
<path d="M929.5 499.5V468.5M927.5 468.5H931.5M929.5 531.5V547.5M927.5 547.5H931.5" stroke="#454545" stroke-width="0.75" stroke-linecap="square" fill="none"/>
<rect x="924.5" y="499.5" width="9.0" height="32.0" fill="#879556" stroke="#454545" stroke-width="0.75"/>
<path d="M924.5 515.5H933.5" stroke="#454545" stroke-width="0.75"/>
<path d="M940.5 497.5V461.5M937.5 461.5H942.5M940.5 531.5V551.5M937.5 551.5H942.5" stroke="#454545" stroke-width="0.75" stroke-linecap="square" fill="none"/>
<rect x="935.5" y="497.5" width="9.0" height="34.0" fill="#869556" stroke="#454545" stroke-width="0.75"/>
<path d="M935.5 513.5H944.5" stroke="#454545" stroke-width="0.75"/>
<path d="M950.5 499.5V471.5M948.5 471.5H953.5M950.5 517.5V535.5M948.5 535.5H953.5" stroke="#454545" stroke-width="0.75" stroke-linecap="square" fill="none"/>
<rect x="946.5" y="499.5" width="9.0" height="18.0" fill="#859556" stroke="#454545" stroke-width="0.75"/>
<path d="M946.5 506.5H955.5" stroke="#454545" stroke-width="0.75"/>
<path d="M950.89 457.35L953.99 462.55L950.89 467.75L947.79 462.55Z" fill="#454545" stroke="#454545" stroke-width="0.8" stroke-linejoin="round"/>
<path d="M950.89 544.44L953.99 549.64L950.89 554.84L947.79 549.64Z" fill="#454545" stroke="#454545" stroke-width="0.8" stroke-linejoin="round"/>
<path d="M961.5 482.5V442.5M959.5 442.5H963.5M961.5 519.5V543.5M959.5 543.5H963.5" stroke="#454545" stroke-width="0.75" stroke-linecap="square" fill="none"/>
<rect x="957.5" y="482.5" width="9.0" height="37.0" fill="#849656" stroke="#454545" stroke-width="0.75"/>
<path d="M957.5 507.5H966.5" stroke="#454545" stroke-width="0.75"/>
<path d="M972.5 493.5V470.5M970.5 470.5H974.5M972.5 513.5V536.5M970.5 536.5H974.5" stroke="#454545" stroke-width="0.75" stroke-linecap="square" fill="none"/>
<rect x="968.5" y="493.5" width="8.0" height="20.0" fill="#839656" stroke="#454545" stroke-width="0.75"/>
<path d="M968.5 500.5H976.5" stroke="#454545" stroke-width="0.75"/>
<path d="M972.49 450.06L975.59 455.26L972.49 460.46L969.39 455.26Z" fill="#454545" stroke="#454545" stroke-width="0.8" stroke-linejoin="round"/>
<path d="M972.49 458.12L975.59 463.32L972.49 468.52L969.39 463.32Z" fill="#454545" stroke="#454545" stroke-width="0.8" stroke-linejoin="round"/>
<path d="M972.49 538.79L975.59 543.99L972.49 549.19L969.39 543.99Z" fill="#454545" stroke="#454545" stroke-width="0.8" stroke-linejoin="round"/>
<path d="M972.49 542.82L975.59 548.02L972.49 553.22L969.39 548.02Z" fill="#454545" stroke="#454545" stroke-width="0.8" stroke-linejoin="round"/>
<path d="M983.5 482.5V433.5M981.5 433.5H985.5M983.5 515.5V542.5M981.5 542.5H985.5" stroke="#454545" stroke-width="0.75" stroke-linecap="square" fill="none"/>
<rect x="978.5" y="482.5" width="9.0" height="33.0" fill="#829756" stroke="#454545" stroke-width="0.75"/>
<path d="M978.5 504.5H987.5" stroke="#454545" stroke-width="0.75"/>
<path d="M994.5 477.5V438.5M991.5 438.5H996.5M994.5 517.5V542.5M991.5 542.5H996.5" stroke="#454545" stroke-width="0.75" stroke-linecap="square" fill="none"/>
<rect x="989.5" y="477.5" width="9.0" height="40.0" fill="#819756" stroke="#454545" stroke-width="0.75"/>
<path d="M989.5 503.5H998.5" stroke="#454545" stroke-width="0.75"/>
<path d="M1004.5 468.5V405.5M1002.5 405.5H1007.5M1004.5 516.5V544.5M1002.5 544.5H1007.5" stroke="#454545" stroke-width="0.75" stroke-linecap="square" fill="none"/>
<rect x="1000.5" y="468.5" width="9.0" height="48.0" fill="#809757" stroke="#454545" stroke-width="0.75"/>
<path d="M1000.5 496.5H1009.5" stroke="#454545" stroke-width="0.75"/>
<path d="M1015.5 470.5V425.5M1013.5 425.5H1017.5M1015.5 511.5V539.5M1013.5 539.5H1017.5" stroke="#454545" stroke-width="0.75" stroke-linecap="square" fill="none"/>
<rect x="1011.5" y="470.5" width="9.0" height="41.0" fill="#7f9857" stroke="#454545" stroke-width="0.75"/>
<path d="M1011.5 486.5H1020.5" stroke="#454545" stroke-width="0.75"/>
<path d="M1026.5 470.5V433.5M1024.5 433.5H1028.5M1026.5 506.5V542.5M1024.5 542.5H1028.5" stroke="#454545" stroke-width="0.75" stroke-linecap="square" fill="none"/>
<rect x="1022.5" y="470.5" width="8.0" height="36.0" fill="#7d9857" stroke="#454545" stroke-width="0.75"/>
<path d="M1022.5 484.5H1030.5" stroke="#454545" stroke-width="0.75"/>
<path d="M1026.51 403.40L1029.61 408.60L1026.51 413.80L1023.41 408.60Z" fill="#454545" stroke="#454545" stroke-width="0.8" stroke-linejoin="round"/>
<path d="M1037.5 467.5V417.5M1035.5 417.5H1039.5M1037.5 516.5V543.5M1035.5 543.5H1039.5" stroke="#454545" stroke-width="0.75" stroke-linecap="square" fill="none"/>
<rect x="1032.5" y="467.5" width="9.0" height="49.0" fill="#7c9957" stroke="#454545" stroke-width="0.75"/>
<path d="M1032.5 489.5H1041.5" stroke="#454545" stroke-width="0.75"/>
<path d="M1048.5 458.5V405.5M1045.5 405.5H1050.5M1048.5 514.5V538.5M1045.5 538.5H1050.5" stroke="#454545" stroke-width="0.75" stroke-linecap="square" fill="none"/>
<rect x="1043.5" y="458.5" width="9.0" height="56.0" fill="#7a9957" stroke="#454545" stroke-width="0.75"/>
<path d="M1043.5 472.5H1052.5" stroke="#454545" stroke-width="0.75"/>
<path d="M1058.5 459.5V398.5M1056.5 398.5H1061.5M1058.5 512.5V541.5M1056.5 541.5H1061.5" stroke="#454545" stroke-width="0.75" stroke-linecap="square" fill="none"/>
<rect x="1054.5" y="459.5" width="9.0" height="53.0" fill="#799a57" stroke="#454545" stroke-width="0.75"/>
<path d="M1054.5 476.5H1063.5" stroke="#454545" stroke-width="0.75"/>
<path d="M1069.5 457.5V396.5M1067.5 396.5H1071.5M1069.5 505.5V531.5M1067.5 531.5H1071.5" stroke="#454545" stroke-width="0.75" stroke-linecap="square" fill="none"/>
<rect x="1065.5" y="457.5" width="9.0" height="48.0" fill="#779a57" stroke="#454545" stroke-width="0.75"/>
<path d="M1065.5 471.5H1074.5" stroke="#454545" stroke-width="0.75"/>
<path d="M1080.5 459.5V417.5M1078.5 417.5H1082.5M1080.5 497.5V537.5M1078.5 537.5H1082.5" stroke="#454545" stroke-width="0.75" stroke-linecap="square" fill="none"/>
<rect x="1076.5" y="459.5" width="8.0" height="38.0" fill="#759b58" stroke="#454545" stroke-width="0.75"/>
<path d="M1076.5 471.5H1084.5" stroke="#454545" stroke-width="0.75"/>
<path d="M1080.52 375.71L1083.62 380.91L1080.52 386.11L1077.42 380.91Z" fill="#454545" stroke="#454545" stroke-width="0.8" stroke-linejoin="round"/>
<path d="M1080.52 380.55L1083.62 385.75L1080.52 390.95L1077.42 385.75Z" fill="#454545" stroke="#454545" stroke-width="0.8" stroke-linejoin="round"/>
<path d="M1080.52 394.53L1083.62 399.73L1080.52 404.93L1077.42 399.73Z" fill="#454545" stroke="#454545" stroke-width="0.8" stroke-linejoin="round"/>
<path d="M1091.5 443.5V358.5M1089.5 358.5H1093.5M1091.5 505.5V531.5M1089.5 531.5H1093.5" stroke="#454545" stroke-width="0.75" stroke-linecap="square" fill="none"/>
<rect x="1086.5" y="443.5" width="9.0" height="62.0" fill="#739b58" stroke="#454545" stroke-width="0.75"/>
<path d="M1086.5 476.5H1095.5" stroke="#454545" stroke-width="0.75"/>
<path d="M1102.5 451.5V441.5M1099.5 441.5H1104.5M1102.5 498.5V534.5M1099.5 534.5H1104.5" stroke="#454545" stroke-width="0.75" stroke-linecap="square" fill="none"/>
<rect x="1097.5" y="451.5" width="9.0" height="47.0" fill="#719c58" stroke="#454545" stroke-width="0.75"/>
<path d="M1097.5 469.5H1106.5" stroke="#454545" stroke-width="0.75"/>
<path d="M1102.13 350.97L1105.23 356.17L1102.13 361.37L1099.03 356.17Z" fill="#454545" stroke="#454545" stroke-width="0.8" stroke-linejoin="round"/>
<path d="M1102.13 358.23L1105.23 363.43L1102.13 368.63L1099.03 363.43Z" fill="#454545" stroke="#454545" stroke-width="0.8" stroke-linejoin="round"/>
<path d="M1102.13 376.51L1105.23 381.71L1102.13 386.91L1099.03 381.71Z" fill="#454545" stroke="#454545" stroke-width="0.8" stroke-linejoin="round"/>
<path d="M1112.5 451.5V445.5M1110.5 445.5H1115.5M1112.5 489.5V528.5M1110.5 528.5H1115.5" stroke="#454545" stroke-width="0.75" stroke-linecap="square" fill="none"/>
<rect x="1108.5" y="451.5" width="9.0" height="38.0" fill="#6f9c58" stroke="#454545" stroke-width="0.75"/>
<path d="M1108.5 461.5H1117.5" stroke="#454545" stroke-width="0.75"/>
<path d="M1112.93 347.47L1116.03 352.67L1112.93 357.87L1109.83 352.67Z" fill="#454545" stroke="#454545" stroke-width="0.8" stroke-linejoin="round"/>
<path d="M1112.93 364.41L1116.03 369.61L1112.93 374.81L1109.83 369.61Z" fill="#454545" stroke="#454545" stroke-width="0.8" stroke-linejoin="round"/>
<path d="M1123.5 435.5V352.5M1121.5 352.5H1125.5M1123.5 498.5V523.5M1121.5 523.5H1125.5" stroke="#454545" stroke-width="0.75" stroke-linecap="square" fill="none"/>
<rect x="1119.5" y="435.5" width="9.0" height="63.0" fill="#6c9d58" stroke="#454545" stroke-width="0.75"/>
<path d="M1119.5 462.5H1128.5" stroke="#454545" stroke-width="0.75"/>
<path d="M1134.5 438.5V361.5M1132.5 361.5H1136.5M1134.5 501.5V522.5M1132.5 522.5H1136.5" stroke="#454545" stroke-width="0.75" stroke-linecap="square" fill="none"/>
<rect x="1130.5" y="438.5" width="8.0" height="63.0" fill="#699d58" stroke="#454545" stroke-width="0.75"/>
<path d="M1130.5 461.5H1138.5" stroke="#454545" stroke-width="0.75"/>
<path d="M1134.54 327.58L1137.64 332.78L1134.54 337.98L1131.44 332.78Z" fill="#454545" stroke="#454545" stroke-width="0.8" stroke-linejoin="round"/>
<path d="M1145.5 441.5V416.5M1143.5 416.5H1147.5M1145.5 495.5V518.5M1143.5 518.5H1147.5" stroke="#454545" stroke-width="0.75" stroke-linecap="square" fill="none"/>
<rect x="1140.5" y="441.5" width="9.0" height="54.0" fill="#659e59" stroke="#454545" stroke-width="0.75"/>
<path d="M1140.5 459.5H1149.5" stroke="#454545" stroke-width="0.75"/>
<path d="M1145.34 339.68L1148.44 344.88L1145.34 350.08L1142.24 344.88Z" fill="#454545" stroke="#454545" stroke-width="0.8" stroke-linejoin="round"/>
<path d="M1145.34 355.81L1148.44 361.01L1145.34 366.21L1142.24 361.01Z" fill="#454545" stroke="#454545" stroke-width="0.8" stroke-linejoin="round"/>
<path d="M1156.5 424.5V329.5M1153.5 329.5H1158.5M1156.5 494.5V511.5M1153.5 511.5H1158.5" stroke="#454545" stroke-width="0.75" stroke-linecap="square" fill="none"/>
<rect x="1151.5" y="424.5" width="9.0" height="70.0" fill="#619e59" stroke="#454545" stroke-width="0.75"/>
<path d="M1151.5 464.5H1160.5" stroke="#454545" stroke-width="0.75"/>
<path d="M1166.5 415.5V350.5M1164.5 350.5H1169.5M1166.5 490.5V513.5M1164.5 513.5H1169.5" stroke="#454545" stroke-width="0.75" stroke-linecap="square" fill="none"/>
<rect x="1162.5" y="415.5" width="9.0" height="75.0" fill="#5c9f59" stroke="#454545" stroke-width="0.75"/>
<path d="M1162.5 445.5H1171.5" stroke="#454545" stroke-width="0.75"/>
<path d="M1177.5 416.5V341.5M1175.5 341.5H1179.5M1177.5 477.5V517.5M1175.5 517.5H1179.5" stroke="#454545" stroke-width="0.75" stroke-linecap="square" fill="none"/>
<rect x="1173.5" y="416.5" width="9.0" height="61.0" fill="#599f5c" stroke="#454545" stroke-width="0.75"/>
<path d="M1173.5 455.5H1182.5" stroke="#454545" stroke-width="0.75"/>
<path d="M1188.5 425.5V358.5M1186.5 358.5H1190.5M1188.5 477.5V519.5M1186.5 519.5H1190.5" stroke="#454545" stroke-width="0.75" stroke-linecap="square" fill="none"/>
<rect x="1184.5" y="425.5" width="8.0" height="52.0" fill="#599f61" stroke="#454545" stroke-width="0.75"/>
<path d="M1184.5 448.5H1192.5" stroke="#454545" stroke-width="0.75"/>
<path d="M1188.55 324.62L1191.65 329.82L1188.55 335.02L1185.45 329.82Z" fill="#454545" stroke="#454545" stroke-width="0.8" stroke-linejoin="round"/>
<path d="M1199.5 422.5V344.5M1197.5 344.5H1201.5M1199.5 475.5V505.5M1197.5 505.5H1201.5" stroke="#454545" stroke-width="0.75" stroke-linecap="square" fill="none"/>
<rect x="1194.5" y="422.5" width="9.0" height="53.0" fill="#599f65" stroke="#454545" stroke-width="0.75"/>
<path d="M1194.5 446.5H1203.5" stroke="#454545" stroke-width="0.75"/>
<path d="M1199.36 329.46L1202.46 334.66L1199.36 339.86L1196.26 334.66Z" fill="#454545" stroke="#454545" stroke-width="0.8" stroke-linejoin="round"/>
<path d="M1210.5 418.5V361.5M1207.5 361.5H1212.5M1210.5 466.5V506.5M1207.5 506.5H1212.5" stroke="#454545" stroke-width="0.75" stroke-linecap="square" fill="none"/>
<rect x="1205.5" y="418.5" width="9.0" height="48.0" fill="#599f69" stroke="#454545" stroke-width="0.75"/>
<path d="M1205.5 449.5H1214.5" stroke="#454545" stroke-width="0.75"/>
<path d="M1210.16 336.18L1213.26 341.38L1210.16 346.58L1207.06 341.38Z" fill="#454545" stroke="#454545" stroke-width="0.8" stroke-linejoin="round"/>
<path d="M1220.5 421.5V361.5M1218.5 361.5H1223.5M1220.5 465.5V505.5M1218.5 505.5H1223.5" stroke="#454545" stroke-width="0.75" stroke-linecap="square" fill="none"/>
<rect x="1216.5" y="421.5" width="9.0" height="44.0" fill="#599f6c" stroke="#454545" stroke-width="0.75"/>
<path d="M1216.5 447.5H1225.5" stroke="#454545" stroke-width="0.75"/>
<path d="M1220.96 345.59L1224.06 350.79L1220.96 355.99L1217.86 350.79Z" fill="#454545" stroke="#454545" stroke-width="0.8" stroke-linejoin="round"/>
<path d="M1231.5 409.5V373.5M1229.5 373.5H1233.5M1231.5 460.5V510.5M1229.5 510.5H1233.5" stroke="#454545" stroke-width="0.75" stroke-linecap="square" fill="none"/>
<rect x="1227.5" y="409.5" width="9.0" height="51.0" fill="#599e6f" stroke="#454545" stroke-width="0.75"/>
<path d="M1227.5 442.5H1236.5" stroke="#454545" stroke-width="0.75"/>
<path d="M1231.77 332.69L1234.87 337.89L1231.77 343.09L1228.67 337.89Z" fill="#454545" stroke="#454545" stroke-width="0.8" stroke-linejoin="round"/>
<path d="M1242.5 409.5V368.5M1240.5 368.5H1244.5M1242.5 456.5V500.5M1240.5 500.5H1244.5" stroke="#454545" stroke-width="0.75" stroke-linecap="square" fill="none"/>
<rect x="1238.5" y="409.5" width="8.0" height="47.0" fill="#5a9e71" stroke="#454545" stroke-width="0.75"/>
<path d="M1238.5 439.5H1246.5" stroke="#454545" stroke-width="0.75"/>
<path d="M1253.5 408.5V341.5M1251.5 341.5H1255.5M1253.5 454.5V509.5M1251.5 509.5H1255.5" stroke="#454545" stroke-width="0.75" stroke-linecap="square" fill="none"/>
<rect x="1248.5" y="408.5" width="9.0" height="46.0" fill="#5a9e73" stroke="#454545" stroke-width="0.75"/>
<path d="M1248.5 439.5H1257.5" stroke="#454545" stroke-width="0.75"/>
<path d="M1264.5 409.5V365.5M1261.5 365.5H1266.5M1264.5 452.5V507.5M1261.5 507.5H1266.5" stroke="#454545" stroke-width="0.75" stroke-linecap="square" fill="none"/>
<rect x="1259.5" y="409.5" width="9.0" height="43.0" fill="#5a9e75" stroke="#454545" stroke-width="0.75"/>
<path d="M1259.5 432.5H1268.5" stroke="#454545" stroke-width="0.75"/>
<path d="M1264.17 314.13L1267.27 319.33L1264.17 324.53L1261.07 319.33Z" fill="#454545" stroke="#454545" stroke-width="0.8" stroke-linejoin="round"/>
<path d="M1264.17 322.74L1267.27 327.94L1264.17 333.14L1261.07 327.94Z" fill="#454545" stroke="#454545" stroke-width="0.8" stroke-linejoin="round"/>
<path d="M1274.5 416.5V394.5M1272.5 394.5H1277.5M1274.5 446.5V454.5M1272.5 454.5H1277.5" stroke="#454545" stroke-width="0.75" stroke-linecap="square" fill="none"/>
<rect x="1270.5" y="416.5" width="9.0" height="30.0" fill="#5a9e77" stroke="#454545" stroke-width="0.75"/>
<path d="M1270.5 433.5H1279.5" stroke="#454545" stroke-width="0.75"/>
<path d="M1274.98 319.51L1278.08 324.71L1274.98 329.91L1271.88 324.71Z" fill="#454545" stroke="#454545" stroke-width="0.8" stroke-linejoin="round"/>
<path d="M1274.98 326.77L1278.08 331.97L1274.98 337.17L1271.88 331.97Z" fill="#454545" stroke="#454545" stroke-width="0.8" stroke-linejoin="round"/>
<path d="M1274.98 342.37L1278.08 347.57L1274.98 352.77L1271.88 347.57Z" fill="#454545" stroke="#454545" stroke-width="0.8" stroke-linejoin="round"/>
<path d="M1274.98 500.61L1278.08 505.81L1274.98 511.01L1271.88 505.81Z" fill="#454545" stroke="#454545" stroke-width="0.8" stroke-linejoin="round"/>
<path d="M1285.5 395.5V325.5M1283.5 325.5H1287.5M1285.5 451.5V505.5M1283.5 505.5H1287.5" stroke="#454545" stroke-width="0.75" stroke-linecap="square" fill="none"/>
<rect x="1281.5" y="395.5" width="9.0" height="56.0" fill="#5a9e79" stroke="#454545" stroke-width="0.75"/>
<path d="M1281.5 423.5H1290.5" stroke="#454545" stroke-width="0.75"/>
<path d="M1296.5 396.5V326.5M1294.5 326.5H1298.5M1296.5 445.5V502.5M1294.5 502.5H1298.5" stroke="#454545" stroke-width="0.75" stroke-linecap="square" fill="none"/>
<rect x="1292.5" y="396.5" width="8.0" height="49.0" fill="#5a9e7b" stroke="#454545" stroke-width="0.75"/>
<path d="M1292.5 429.5H1300.5" stroke="#454545" stroke-width="0.75"/>
<path d="M1307.5 385.5V331.5M1305.5 331.5H1309.5M1307.5 434.5V496.5M1305.5 496.5H1309.5" stroke="#454545" stroke-width="0.75" stroke-linecap="square" fill="none"/>
<rect x="1302.5" y="385.5" width="9.0" height="49.0" fill="#5a9e7c" stroke="#454545" stroke-width="0.75"/>
<path d="M1302.5 420.5H1311.5" stroke="#454545" stroke-width="0.75"/>
<path d="M1318.5 381.5V356.5M1315.5 356.5H1320.5M1318.5 443.5V485.5M1315.5 485.5H1320.5" stroke="#454545" stroke-width="0.75" stroke-linecap="square" fill="none"/>
<rect x="1313.5" y="381.5" width="9.0" height="62.0" fill="#5a9d7d" stroke="#454545" stroke-width="0.75"/>
<path d="M1313.5 419.5H1322.5" stroke="#454545" stroke-width="0.75"/>
<path d="M1328.5 384.5V336.5M1326.5 336.5H1331.5M1328.5 434.5V488.5M1326.5 488.5H1331.5" stroke="#454545" stroke-width="0.75" stroke-linecap="square" fill="none"/>
<rect x="1324.5" y="384.5" width="9.0" height="50.0" fill="#5a9d7f" stroke="#454545" stroke-width="0.75"/>
<path d="M1324.5 414.5H1333.5" stroke="#454545" stroke-width="0.75"/>
<path d="M1339.5 394.5V359.5M1337.5 359.5H1341.5M1339.5 439.5V488.5M1337.5 488.5H1341.5" stroke="#454545" stroke-width="0.75" stroke-linecap="square" fill="none"/>
<rect x="1335.5" y="394.5" width="9.0" height="45.0" fill="#5a9d80" stroke="#454545" stroke-width="0.75"/>
<path d="M1335.5 428.5H1344.5" stroke="#454545" stroke-width="0.75"/>
<path d="M1339.80 308.04L1342.89 313.24L1339.80 318.44L1336.70 313.24Z" fill="#454545" stroke="#454545" stroke-width="0.8" stroke-linejoin="round"/>
<path d="M1350.5 383.5V316.5M1348.5 316.5H1352.5M1350.5 438.5V475.5M1348.5 475.5H1352.5" stroke="#454545" stroke-width="0.75" stroke-linecap="square" fill="none"/>
<rect x="1346.5" y="383.5" width="8.0" height="55.0" fill="#5a9d81" stroke="#454545" stroke-width="0.75"/>
<path d="M1346.5 412.5H1354.5" stroke="#454545" stroke-width="0.75"/>
<path d="M1361.5 381.5V307.5M1359.5 307.5H1363.5M1361.5 438.5V482.5M1359.5 482.5H1363.5" stroke="#454545" stroke-width="0.75" stroke-linecap="square" fill="none"/>
<rect x="1357.5" y="381.5" width="8.0" height="57.0" fill="#5a9d82" stroke="#454545" stroke-width="0.75"/>
<path d="M1357.5 415.5H1365.5" stroke="#454545" stroke-width="0.75"/>
<path d="M1372.5 384.5V322.5M1370.5 322.5H1374.5M1372.5 434.5V470.5M1370.5 470.5H1374.5" stroke="#454545" stroke-width="0.75" stroke-linecap="square" fill="none"/>
<rect x="1367.5" y="384.5" width="9.0" height="50.0" fill="#5a9d83" stroke="#454545" stroke-width="0.75"/>
<path d="M1367.5 412.5H1376.5" stroke="#454545" stroke-width="0.75"/>
<path d="M1383.5 383.5V316.5M1380.5 316.5H1385.5M1383.5 435.5V479.5M1380.5 479.5H1385.5" stroke="#454545" stroke-width="0.75" stroke-linecap="square" fill="none"/>
<rect x="1378.5" y="383.5" width="9.0" height="52.0" fill="#5a9d84" stroke="#454545" stroke-width="0.75"/>
<path d="M1378.5 417.5H1387.5" stroke="#454545" stroke-width="0.75"/>
<path d="M1393.5 384.5V318.5M1391.5 318.5H1396.5M1393.5 432.5V486.5M1391.5 486.5H1396.5" stroke="#454545" stroke-width="0.75" stroke-linecap="square" fill="none"/>
<rect x="1389.5" y="384.5" width="9.0" height="48.0" fill="#5a9d85" stroke="#454545" stroke-width="0.75"/>
<path d="M1389.5 410.5H1398.5" stroke="#454545" stroke-width="0.75"/>
<path d="M1404.5 396.5V339.5M1402.5 339.5H1406.5M1404.5 435.5V489.5M1402.5 489.5H1406.5" stroke="#454545" stroke-width="0.75" stroke-linecap="square" fill="none"/>
<rect x="1400.5" y="396.5" width="9.0" height="39.0" fill="#5a9d86" stroke="#454545" stroke-width="0.75"/>
<path d="M1400.5 413.5H1409.5" stroke="#454545" stroke-width="0.75"/>
<path d="M1404.61 328.38L1407.71 333.58L1404.61 338.78L1401.51 333.58Z" fill="#454545" stroke="#454545" stroke-width="0.8" stroke-linejoin="round"/>
<path d="M1415.5 378.5V309.5M1413.5 309.5H1417.5M1415.5 429.5V483.5M1413.5 483.5H1417.5" stroke="#454545" stroke-width="0.75" stroke-linecap="square" fill="none"/>
<rect x="1411.5" y="378.5" width="8.0" height="51.0" fill="#5a9d87" stroke="#454545" stroke-width="0.75"/>
<path d="M1411.5 413.5H1419.5" stroke="#454545" stroke-width="0.75"/>
<path d="M1426.5 395.5V352.5M1424.5 352.5H1428.5M1426.5 427.5V450.5M1424.5 450.5H1428.5" stroke="#454545" stroke-width="0.75" stroke-linecap="square" fill="none"/>
<rect x="1421.5" y="395.5" width="9.0" height="32.0" fill="#5a9d88" stroke="#454545" stroke-width="0.75"/>
<path d="M1421.5 412.5H1430.5" stroke="#454545" stroke-width="0.75"/>
<path d="M1426.22 319.34L1429.32 324.54L1426.22 329.74L1423.12 324.54Z" fill="#454545" stroke="#454545" stroke-width="0.8" stroke-linejoin="round"/>
<path d="M1426.22 338.70L1429.32 343.90L1426.22 349.10L1423.12 343.90Z" fill="#454545" stroke="#454545" stroke-width="0.8" stroke-linejoin="round"/>
<path d="M1426.22 479.35L1429.32 484.55L1426.22 489.75L1423.12 484.55Z" fill="#454545" stroke="#454545" stroke-width="0.8" stroke-linejoin="round"/>
<path d="M1437.5 382.5V327.5M1434.5 327.5H1439.5M1437.5 424.5V480.5M1434.5 480.5H1439.5" stroke="#454545" stroke-width="0.75" stroke-linecap="square" fill="none"/>
<rect x="1432.5" y="382.5" width="9.0" height="42.0" fill="#5a9d89" stroke="#454545" stroke-width="0.75"/>
<path d="M1432.5 405.5H1441.5" stroke="#454545" stroke-width="0.75"/>
<path d="M1447.5 383.5V341.5M1445.5 341.5H1450.5M1447.5 431.5V475.5M1445.5 475.5H1450.5" stroke="#454545" stroke-width="0.75" stroke-linecap="square" fill="none"/>
<rect x="1443.5" y="383.5" width="9.0" height="48.0" fill="#5a9c8a" stroke="#454545" stroke-width="0.75"/>
<path d="M1443.5 411.5H1452.5" stroke="#454545" stroke-width="0.75"/>
<path d="M1458.5 386.5V324.5M1456.5 324.5H1460.5M1458.5 431.5V496.5M1456.5 496.5H1460.5" stroke="#454545" stroke-width="0.75" stroke-linecap="square" fill="none"/>
<rect x="1454.5" y="386.5" width="9.0" height="45.0" fill="#5a9c8b" stroke="#454545" stroke-width="0.75"/>
<path d="M1454.5 404.5H1463.5" stroke="#454545" stroke-width="0.75"/>
<path d="M1469.5 375.5V320.5M1467.5 320.5H1471.5M1469.5 435.5V499.5M1467.5 499.5H1471.5" stroke="#454545" stroke-width="0.75" stroke-linecap="square" fill="none"/>
<rect x="1465.5" y="375.5" width="8.0" height="60.0" fill="#5a9c8b" stroke="#454545" stroke-width="0.75"/>
<path d="M1465.5 401.5H1473.5" stroke="#454545" stroke-width="0.75"/>
<path d="M1480.5 382.5V330.5M1478.5 330.5H1482.5M1480.5 427.5V478.5M1478.5 478.5H1482.5" stroke="#454545" stroke-width="0.75" stroke-linecap="square" fill="none"/>
<rect x="1475.5" y="382.5" width="9.0" height="45.0" fill="#5b9c8c" stroke="#454545" stroke-width="0.75"/>
<path d="M1475.5 400.5H1484.5" stroke="#454545" stroke-width="0.75"/>
<path d="M1480.23 492.26L1483.33 497.46L1480.23 502.66L1477.13 497.46Z" fill="#454545" stroke="#454545" stroke-width="0.8" stroke-linejoin="round"/>
<path d="M1491.5 372.5V347.5M1488.5 347.5H1493.5M1491.5 435.5V496.5M1488.5 496.5H1493.5" stroke="#454545" stroke-width="0.75" stroke-linecap="square" fill="none"/>
<rect x="1486.5" y="372.5" width="9.0" height="63.0" fill="#5b9c8d" stroke="#454545" stroke-width="0.75"/>
<path d="M1486.5 407.5H1495.5" stroke="#454545" stroke-width="0.75"/>
<path d="M1501.5 386.5V326.5M1499.5 326.5H1504.5M1501.5 431.5V492.5M1499.5 492.5H1504.5" stroke="#454545" stroke-width="0.75" stroke-linecap="square" fill="none"/>
<rect x="1497.5" y="386.5" width="9.0" height="45.0" fill="#5b9c8e" stroke="#454545" stroke-width="0.75"/>
<path d="M1497.5 402.5H1506.5" stroke="#454545" stroke-width="0.75"/>
<path d="M1512.5 391.5V351.5M1510.5 351.5H1514.5M1512.5 431.5V490.5M1510.5 490.5H1514.5" stroke="#454545" stroke-width="0.75" stroke-linecap="square" fill="none"/>
<rect x="1508.5" y="391.5" width="9.0" height="40.0" fill="#5b9c8e" stroke="#454545" stroke-width="0.75"/>
<path d="M1508.5 414.5H1517.5" stroke="#454545" stroke-width="0.75"/>
<path d="M1523.5 384.5V346.5M1521.5 346.5H1525.5M1523.5 428.5V494.5M1521.5 494.5H1525.5" stroke="#454545" stroke-width="0.75" stroke-linecap="square" fill="none"/>
<rect x="1519.5" y="384.5" width="8.0" height="44.0" fill="#5b9c8f" stroke="#454545" stroke-width="0.75"/>
<path d="M1519.5 413.5H1527.5" stroke="#454545" stroke-width="0.75"/>
<path d="M1534.5 387.5V358.5M1532.5 358.5H1536.5M1534.5 437.5V488.5M1532.5 488.5H1536.5" stroke="#454545" stroke-width="0.75" stroke-linecap="square" fill="none"/>
<rect x="1529.5" y="387.5" width="9.0" height="50.0" fill="#5b9c90" stroke="#454545" stroke-width="0.75"/>
<path d="M1529.5 416.5H1538.5" stroke="#454545" stroke-width="0.75"/>
<path d="M1545.5 386.5V358.5M1542.5 358.5H1547.5M1545.5 433.5V496.5M1542.5 496.5H1547.5" stroke="#454545" stroke-width="0.75" stroke-linecap="square" fill="none"/>
<rect x="1540.5" y="386.5" width="9.0" height="47.0" fill="#5b9c90" stroke="#454545" stroke-width="0.75"/>
<path d="M1540.5 416.5H1549.5" stroke="#454545" stroke-width="0.75"/>
<path d="M1555.5 393.5V371.5M1553.5 371.5H1558.5M1555.5 429.5V471.5M1553.5 471.5H1558.5" stroke="#454545" stroke-width="0.75" stroke-linecap="square" fill="none"/>
<rect x="1551.5" y="393.5" width="9.0" height="36.0" fill="#5b9c91" stroke="#454545" stroke-width="0.75"/>
<path d="M1551.5 405.5H1560.5" stroke="#454545" stroke-width="0.75"/>
<path d="M1555.86 479.35L1558.96 484.55L1555.86 489.75L1552.76 484.55Z" fill="#454545" stroke="#454545" stroke-width="0.8" stroke-linejoin="round"/>
<path d="M1555.86 484.84L1558.96 490.04L1555.86 495.24L1552.76 490.04Z" fill="#454545" stroke="#454545" stroke-width="0.8" stroke-linejoin="round"/>
<path d="M1566.5 397.5V362.5M1564.5 362.5H1568.5M1566.5 427.5V468.5M1564.5 468.5H1568.5" stroke="#454545" stroke-width="0.75" stroke-linecap="square" fill="none"/>
<rect x="1562.5" y="397.5" width="9.0" height="30.0" fill="#5b9c92" stroke="#454545" stroke-width="0.75"/>
<path d="M1562.5 410.5H1571.5" stroke="#454545" stroke-width="0.75"/>
<path d="M1566.66 487.42L1569.76 492.62L1566.66 497.82L1563.56 492.62Z" fill="#454545" stroke="#454545" stroke-width="0.8" stroke-linejoin="round"/>
<path d="M1577.5 386.5V345.5M1575.5 345.5H1579.5M1577.5 432.5V488.5M1575.5 488.5H1579.5" stroke="#454545" stroke-width="0.75" stroke-linecap="square" fill="none"/>
<rect x="1573.5" y="386.5" width="8.0" height="46.0" fill="#5b9c92" stroke="#454545" stroke-width="0.75"/>
<path d="M1573.5 410.5H1581.5" stroke="#454545" stroke-width="0.75"/>
<path d="M1588.5 381.5V347.5M1586.5 347.5H1590.5M1588.5 433.5V499.5M1586.5 499.5H1590.5" stroke="#454545" stroke-width="0.75" stroke-linecap="square" fill="none"/>
<rect x="1583.5" y="381.5" width="9.0" height="52.0" fill="#5b9c93" stroke="#454545" stroke-width="0.75"/>
<path d="M1583.5 414.5H1592.5" stroke="#454545" stroke-width="0.75"/>
<path d="M1599.5 376.5V357.5M1596.5 357.5H1601.5M1599.5 438.5V494.5M1596.5 494.5H1601.5" stroke="#454545" stroke-width="0.75" stroke-linecap="square" fill="none"/>
<rect x="1594.5" y="376.5" width="9.0" height="62.0" fill="#5b9b94" stroke="#454545" stroke-width="0.75"/>
<path d="M1594.5 404.5H1603.5" stroke="#454545" stroke-width="0.75"/>
<path d="M1609.5 387.5V361.5M1607.5 361.5H1612.5M1609.5 437.5V501.5M1607.5 501.5H1612.5" stroke="#454545" stroke-width="0.75" stroke-linecap="square" fill="none"/>
<rect x="1605.5" y="387.5" width="9.0" height="50.0" fill="#5b9b94" stroke="#454545" stroke-width="0.75"/>
<path d="M1605.5 416.5H1614.5" stroke="#454545" stroke-width="0.75"/>
<path d="M1620.5 390.5V345.5M1618.5 345.5H1622.5M1620.5 433.5V485.5M1618.5 485.5H1622.5" stroke="#454545" stroke-width="0.75" stroke-linecap="square" fill="none"/>
<rect x="1616.5" y="390.5" width="9.0" height="43.0" fill="#5b9b95" stroke="#454545" stroke-width="0.75"/>
<path d="M1616.5 416.5H1625.5" stroke="#454545" stroke-width="0.75"/>
<path d="M1620.67 504.00L1623.77 509.20L1620.67 514.40L1617.57 509.20Z" fill="#454545" stroke="#454545" stroke-width="0.8" stroke-linejoin="round"/>
<path d="M1631.5 381.5V346.5M1629.5 346.5H1633.5M1631.5 429.5V498.5M1629.5 498.5H1633.5" stroke="#454545" stroke-width="0.75" stroke-linecap="square" fill="none"/>
<rect x="1627.5" y="381.5" width="8.0" height="48.0" fill="#5b9b95" stroke="#454545" stroke-width="0.75"/>
<path d="M1627.5 417.5H1635.5" stroke="#454545" stroke-width="0.75"/>
<path d="M1642.5 381.5V344.5M1640.5 344.5H1644.5M1642.5 436.5V500.5M1640.5 500.5H1644.5" stroke="#454545" stroke-width="0.75" stroke-linecap="square" fill="none"/>
<rect x="1637.5" y="381.5" width="9.0" height="55.0" fill="#5b9b96" stroke="#454545" stroke-width="0.75"/>
<path d="M1637.5 404.5H1646.5" stroke="#454545" stroke-width="0.75"/>
<path d="M1653.5 380.5V331.5M1650.5 331.5H1655.5M1653.5 425.5V485.5M1650.5 485.5H1655.5" stroke="#454545" stroke-width="0.75" stroke-linecap="square" fill="none"/>
<rect x="1648.5" y="380.5" width="9.0" height="45.0" fill="#5b9b96" stroke="#454545" stroke-width="0.75"/>
<path d="M1648.5 410.5H1657.5" stroke="#454545" stroke-width="0.75"/>
<path d="M1653.08 493.20L1656.18 498.40L1653.08 503.60L1649.98 498.40Z" fill="#454545" stroke="#454545" stroke-width="0.8" stroke-linejoin="round"/>
<path d="M1663.5 379.5V329.5M1661.5 329.5H1666.5M1663.5 432.5V499.5M1661.5 499.5H1666.5" stroke="#454545" stroke-width="0.75" stroke-linecap="square" fill="none"/>
<rect x="1659.5" y="379.5" width="9.0" height="53.0" fill="#5b9b97" stroke="#454545" stroke-width="0.75"/>
<path d="M1659.5 407.5H1668.5" stroke="#454545" stroke-width="0.75"/>
<path d="M1674.5 380.5V334.5M1672.5 334.5H1676.5M1674.5 437.5V506.5M1672.5 506.5H1676.5" stroke="#454545" stroke-width="0.75" stroke-linecap="square" fill="none"/>
<rect x="1670.5" y="380.5" width="9.0" height="57.0" fill="#5b9b98" stroke="#454545" stroke-width="0.75"/>
<path d="M1670.5 400.5H1679.5" stroke="#454545" stroke-width="0.75"/>
<path d="M1685.5 371.5V344.5M1683.5 344.5H1687.5M1685.5 428.5V503.5M1683.5 503.5H1687.5" stroke="#454545" stroke-width="0.75" stroke-linecap="square" fill="none"/>
<rect x="1681.5" y="371.5" width="8.0" height="57.0" fill="#5b9b98" stroke="#454545" stroke-width="0.75"/>
<path d="M1681.5 394.5H1689.5" stroke="#454545" stroke-width="0.75"/>
<path d="M1696.5 367.5V319.5M1694.5 319.5H1698.5M1696.5 433.5V492.5M1694.5 492.5H1698.5" stroke="#454545" stroke-width="0.75" stroke-linecap="square" fill="none"/>
<rect x="1691.5" y="367.5" width="9.0" height="66.0" fill="#5b9b99" stroke="#454545" stroke-width="0.75"/>
<path d="M1691.5 396.5H1700.5" stroke="#454545" stroke-width="0.75"/>
<path d="M1707.5 358.5V309.5M1704.5 309.5H1709.5M1707.5 444.5V511.5M1704.5 511.5H1709.5" stroke="#454545" stroke-width="0.75" stroke-linecap="square" fill="none"/>
<rect x="1702.5" y="358.5" width="9.0" height="86.0" fill="#5b9b99" stroke="#454545" stroke-width="0.75"/>
<path d="M1702.5 391.5H1711.5" stroke="#454545" stroke-width="0.75"/>
<path d="M1717.5 354.5V294.5M1715.5 294.5H1720.5M1717.5 425.5V493.5M1715.5 493.5H1720.5" stroke="#454545" stroke-width="0.75" stroke-linecap="square" fill="none"/>
<rect x="1713.5" y="354.5" width="9.0" height="71.0" fill="#5b9b9a" stroke="#454545" stroke-width="0.75"/>
<path d="M1713.5 396.5H1722.5" stroke="#454545" stroke-width="0.75"/>
<path d="M1728.5 351.5V293.5M1726.5 293.5H1730.5M1728.5 437.5V498.5M1726.5 498.5H1730.5" stroke="#454545" stroke-width="0.75" stroke-linecap="square" fill="none"/>
<rect x="1724.5" y="351.5" width="9.0" height="86.0" fill="#5b9b9a" stroke="#454545" stroke-width="0.75"/>
<path d="M1724.5 369.5H1733.5" stroke="#454545" stroke-width="0.75"/>
<path d="M1739.5 343.5V289.5M1737.5 289.5H1741.5M1739.5 420.5V504.5M1737.5 504.5H1741.5" stroke="#454545" stroke-width="0.75" stroke-linecap="square" fill="none"/>
<rect x="1735.5" y="343.5" width="8.0" height="77.0" fill="#5b9b9b" stroke="#454545" stroke-width="0.75"/>
<path d="M1735.5 384.5H1743.5" stroke="#454545" stroke-width="0.75"/>
<path d="M1750.5 315.5V278.5M1748.5 278.5H1752.5M1750.5 434.5V507.5M1748.5 507.5H1752.5" stroke="#454545" stroke-width="0.75" stroke-linecap="square" fill="none"/>
<rect x="1745.5" y="315.5" width="9.0" height="119.0" fill="#5c9b9c" stroke="#454545" stroke-width="0.75"/>
<path d="M1745.5 367.5H1754.5" stroke="#454545" stroke-width="0.75"/>
<path d="M1761.5 316.5V288.5M1758.5 288.5H1763.5M1761.5 429.5V504.5M1758.5 504.5H1763.5" stroke="#454545" stroke-width="0.75" stroke-linecap="square" fill="none"/>
<rect x="1756.5" y="316.5" width="9.0" height="113.0" fill="#5c9b9d" stroke="#454545" stroke-width="0.75"/>
<path d="M1756.5 365.5H1765.5" stroke="#454545" stroke-width="0.75"/>
<path d="M1771.5 309.5V259.5M1769.5 259.5H1774.5M1771.5 408.5V505.5M1769.5 505.5H1774.5" stroke="#454545" stroke-width="0.75" stroke-linecap="square" fill="none"/>
<rect x="1767.5" y="309.5" width="9.0" height="99.0" fill="#5c9c9e" stroke="#454545" stroke-width="0.75"/>
<path d="M1767.5 346.5H1776.5" stroke="#454545" stroke-width="0.75"/>
<path d="M1782.5 300.5V248.5M1780.5 248.5H1784.5M1782.5 409.5V501.5M1780.5 501.5H1784.5" stroke="#454545" stroke-width="0.75" stroke-linecap="square" fill="none"/>
<rect x="1778.5" y="300.5" width="9.0" height="109.0" fill="#5d9c9f" stroke="#454545" stroke-width="0.75"/>
<path d="M1778.5 349.5H1787.5" stroke="#454545" stroke-width="0.75"/>
<path d="M1793.5 306.5V228.5M1791.5 228.5H1795.5M1793.5 394.5V501.5M1791.5 501.5H1795.5" stroke="#454545" stroke-width="0.75" stroke-linecap="square" fill="none"/>
<rect x="1789.5" y="306.5" width="8.0" height="88.0" fill="#5d9ca0" stroke="#454545" stroke-width="0.75"/>
<path d="M1789.5 348.5H1797.5" stroke="#454545" stroke-width="0.75"/>
<path d="M1804.5 291.5V250.5M1802.5 250.5H1806.5M1804.5 394.5V495.5M1802.5 495.5H1806.5" stroke="#454545" stroke-width="0.75" stroke-linecap="square" fill="none"/>
<rect x="1799.5" y="291.5" width="9.0" height="103.0" fill="#5e9ca1" stroke="#454545" stroke-width="0.75"/>
<path d="M1799.5 356.5H1808.5" stroke="#454545" stroke-width="0.75"/>
<path d="M1815.5 293.5V233.5M1812.5 233.5H1817.5M1815.5 395.5V498.5M1812.5 498.5H1817.5" stroke="#454545" stroke-width="0.75" stroke-linecap="square" fill="none"/>
<rect x="1810.5" y="293.5" width="9.0" height="102.0" fill="#5e9da2" stroke="#454545" stroke-width="0.75"/>
<path d="M1810.5 325.5H1819.5" stroke="#454545" stroke-width="0.75"/>
<path d="M1825.5 296.5V243.5M1823.5 243.5H1828.5M1825.5 383.5V493.5M1823.5 493.5H1828.5" stroke="#454545" stroke-width="0.75" stroke-linecap="square" fill="none"/>
<rect x="1821.5" y="296.5" width="9.0" height="87.0" fill="#5e9da2" stroke="#454545" stroke-width="0.75"/>
<path d="M1821.5 337.5H1830.5" stroke="#454545" stroke-width="0.75"/>
<path d="M1836.5 256.5V221.5M1834.5 221.5H1838.5M1836.5 372.5V489.5M1834.5 489.5H1838.5" stroke="#454545" stroke-width="0.75" stroke-linecap="square" fill="none"/>
<rect x="1832.5" y="256.5" width="9.0" height="116.0" fill="#5f9da3" stroke="#454545" stroke-width="0.75"/>
<path d="M1832.5 334.5H1841.5" stroke="#454545" stroke-width="0.75"/>
<path d="M1847.5 266.5V207.5M1845.5 207.5H1849.5M1847.5 399.5V468.5M1845.5 468.5H1849.5" stroke="#454545" stroke-width="0.75" stroke-linecap="square" fill="none"/>
<rect x="1843.5" y="266.5" width="8.0" height="133.0" fill="#5f9da4" stroke="#454545" stroke-width="0.75"/>
<path d="M1843.5 331.5H1851.5" stroke="#454545" stroke-width="0.75"/>
<path d="M1858.5 254.5V211.5M1856.5 211.5H1860.5M1858.5 364.5V468.5M1856.5 468.5H1860.5" stroke="#454545" stroke-width="0.75" stroke-linecap="square" fill="none"/>
<rect x="1853.5" y="254.5" width="9.0" height="110.0" fill="#5f9ea5" stroke="#454545" stroke-width="0.75"/>
<path d="M1853.5 318.5H1862.5" stroke="#454545" stroke-width="0.75"/>
<path d="M1869.5 244.5V200.5M1866.5 200.5H1871.5M1869.5 354.5V476.5M1866.5 476.5H1871.5" stroke="#454545" stroke-width="0.75" stroke-linecap="square" fill="none"/>
<rect x="1864.5" y="244.5" width="9.0" height="110.0" fill="#609ea6" stroke="#454545" stroke-width="0.75"/>
<path d="M1864.5 312.5H1873.5" stroke="#454545" stroke-width="0.75"/>
<path d="M1879.5 251.5V170.5M1877.5 170.5H1882.5M1879.5 341.5V476.5M1877.5 476.5H1882.5" stroke="#454545" stroke-width="0.75" stroke-linecap="square" fill="none"/>
<rect x="1875.5" y="251.5" width="9.0" height="90.0" fill="#609ea7" stroke="#454545" stroke-width="0.75"/>
<path d="M1875.5 301.5H1884.5" stroke="#454545" stroke-width="0.75"/>
<path d="M1890.5 243.5V185.5M1888.5 185.5H1892.5M1890.5 364.5V474.5M1888.5 474.5H1892.5" stroke="#454545" stroke-width="0.75" stroke-linecap="square" fill="none"/>
<rect x="1886.5" y="243.5" width="9.0" height="121.0" fill="#619ea8" stroke="#454545" stroke-width="0.75"/>
<path d="M1886.5 300.5H1895.5" stroke="#454545" stroke-width="0.75"/>
<path d="M1901.5 234.5V198.5M1899.5 198.5H1903.5M1901.5 350.5V449.5M1899.5 449.5H1903.5" stroke="#454545" stroke-width="0.75" stroke-linecap="square" fill="none"/>
<rect x="1897.5" y="234.5" width="8.0" height="116.0" fill="#619fa9" stroke="#454545" stroke-width="0.75"/>
<path d="M1897.5 296.5H1905.5" stroke="#454545" stroke-width="0.75"/>
<path d="M1912.5 233.5V184.5M1910.5 184.5H1914.5M1912.5 352.5V453.5M1910.5 453.5H1914.5" stroke="#454545" stroke-width="0.75" stroke-linecap="square" fill="none"/>
<rect x="1907.5" y="233.5" width="9.0" height="119.0" fill="#619faa" stroke="#454545" stroke-width="0.75"/>
<path d="M1907.5 271.5H1916.5" stroke="#454545" stroke-width="0.75"/>
<path d="M1923.5 221.5V162.5M1920.5 162.5H1925.5M1923.5 335.5V464.5M1920.5 464.5H1925.5" stroke="#454545" stroke-width="0.75" stroke-linecap="square" fill="none"/>
<rect x="1918.5" y="221.5" width="9.0" height="114.0" fill="#629fab" stroke="#454545" stroke-width="0.75"/>
<path d="M1918.5 263.5H1927.5" stroke="#454545" stroke-width="0.75"/>
<path d="M1933.5 211.5V150.5M1931.5 150.5H1936.5M1933.5 348.5V456.5M1931.5 456.5H1936.5" stroke="#454545" stroke-width="0.75" stroke-linecap="square" fill="none"/>
<rect x="1929.5" y="211.5" width="9.0" height="137.0" fill="#629fac" stroke="#454545" stroke-width="0.75"/>
<path d="M1929.5 258.5H1938.5" stroke="#454545" stroke-width="0.75"/>
<path d="M1944.5 203.5V177.5M1942.5 177.5H1946.5M1944.5 316.5V470.5M1942.5 470.5H1946.5" stroke="#454545" stroke-width="0.75" stroke-linecap="square" fill="none"/>
<rect x="1940.5" y="203.5" width="9.0" height="113.0" fill="#63a0ad" stroke="#454545" stroke-width="0.75"/>
<path d="M1940.5 255.5H1949.5" stroke="#454545" stroke-width="0.75"/>
<path d="M1955.5 201.5V153.5M1953.5 153.5H1957.5M1955.5 322.5V447.5M1953.5 447.5H1957.5" stroke="#454545" stroke-width="0.75" stroke-linecap="square" fill="none"/>
<rect x="1951.5" y="201.5" width="8.0" height="121.0" fill="#63a0af" stroke="#454545" stroke-width="0.75"/>
<path d="M1951.5 256.5H1959.5" stroke="#454545" stroke-width="0.75"/>
<path d="M1966.5 192.5V138.5M1964.5 138.5H1968.5M1966.5 316.5V465.5M1964.5 465.5H1968.5" stroke="#454545" stroke-width="0.75" stroke-linecap="square" fill="none"/>
<rect x="1961.5" y="192.5" width="9.0" height="124.0" fill="#64a0b0" stroke="#454545" stroke-width="0.75"/>
<path d="M1961.5 230.5H1970.5" stroke="#454545" stroke-width="0.75"/>
<path d="M1977.5 192.5V117.5M1974.5 117.5H1979.5M1977.5 329.5V456.5M1974.5 456.5H1979.5" stroke="#454545" stroke-width="0.75" stroke-linecap="square" fill="none"/>
<rect x="1972.5" y="192.5" width="9.0" height="137.0" fill="#64a1b1" stroke="#454545" stroke-width="0.75"/>
<path d="M1972.5 243.5H1981.5" stroke="#454545" stroke-width="0.75"/>
<path d="M1987.5 193.5V129.5M1985.5 129.5H1990.5M1987.5 330.5V455.5M1985.5 455.5H1990.5" stroke="#454545" stroke-width="0.75" stroke-linecap="square" fill="none"/>
<rect x="1983.5" y="193.5" width="9.0" height="137.0" fill="#65a1b2" stroke="#454545" stroke-width="0.75"/>
<path d="M1983.5 243.5H1992.5" stroke="#454545" stroke-width="0.75"/>
<path d="M1998.5 199.5V125.5M1996.5 125.5H2000.5M1998.5 314.5V451.5M1996.5 451.5H2000.5" stroke="#454545" stroke-width="0.75" stroke-linecap="square" fill="none"/>
<rect x="1994.5" y="199.5" width="9.0" height="115.0" fill="#65a1b3" stroke="#454545" stroke-width="0.75"/>
<path d="M1994.5 242.5H2003.5" stroke="#454545" stroke-width="0.75"/>
<path d="M2009.5 171.5V144.5M2007.5 144.5H2011.5M2009.5 316.5V436.5M2007.5 436.5H2011.5" stroke="#454545" stroke-width="0.75" stroke-linecap="square" fill="none"/>
<rect x="2005.5" y="171.5" width="8.0" height="145.0" fill="#66a2b5" stroke="#454545" stroke-width="0.75"/>
<path d="M2005.5 262.5H2013.5" stroke="#454545" stroke-width="0.75"/>
<path d="M2020.5 199.5V122.5M2018.5 122.5H2022.5M2020.5 307.5V442.5M2018.5 442.5H2022.5" stroke="#454545" stroke-width="0.75" stroke-linecap="square" fill="none"/>
<rect x="2015.5" y="199.5" width="9.0" height="108.0" fill="#66a2b6" stroke="#454545" stroke-width="0.75"/>
<path d="M2015.5 229.5H2024.5" stroke="#454545" stroke-width="0.75"/>
<path d="M2031.5 199.5V97.5M2028.5 97.5H2033.5M2031.5 329.5V454.5M2028.5 454.5H2033.5" stroke="#454545" stroke-width="0.75" stroke-linecap="square" fill="none"/>
<rect x="2026.5" y="199.5" width="9.0" height="130.0" fill="#67a2b7" stroke="#454545" stroke-width="0.75"/>
<path d="M2026.5 233.5H2035.5" stroke="#454545" stroke-width="0.75"/>
<path d="M2041.5 170.5V130.5M2039.5 130.5H2044.5M2041.5 359.5V451.5M2039.5 451.5H2044.5" stroke="#454545" stroke-width="0.75" stroke-linecap="square" fill="none"/>
<rect x="2037.5" y="170.5" width="9.0" height="189.0" fill="#67a3b9" stroke="#454545" stroke-width="0.75"/>
<path d="M2037.5 220.5H2046.5" stroke="#454545" stroke-width="0.75"/>
<path d="M2052.5 171.5V108.5M2050.5 108.5H2054.5M2052.5 344.5V436.5M2050.5 436.5H2054.5" stroke="#454545" stroke-width="0.75" stroke-linecap="square" fill="none"/>
<rect x="2048.5" y="171.5" width="9.0" height="173.0" fill="#68a3ba" stroke="#454545" stroke-width="0.75"/>
<path d="M2048.5 231.5H2057.5" stroke="#454545" stroke-width="0.75"/>
<path d="M2063.5 185.5V130.5M2061.5 130.5H2065.5M2063.5 330.5V458.5M2061.5 458.5H2065.5" stroke="#454545" stroke-width="0.75" stroke-linecap="square" fill="none"/>
<rect x="2059.5" y="185.5" width="8.0" height="145.0" fill="#68a4bc" stroke="#454545" stroke-width="0.75"/>
<path d="M2059.5 225.5H2067.5" stroke="#454545" stroke-width="0.75"/>
<path d="M2074.5 174.5V128.5M2072.5 128.5H2076.5M2074.5 354.5V443.5M2072.5 443.5H2076.5" stroke="#454545" stroke-width="0.75" stroke-linecap="square" fill="none"/>
<rect x="2069.5" y="174.5" width="9.0" height="180.0" fill="#69a4bd" stroke="#454545" stroke-width="0.75"/>
<path d="M2069.5 221.5H2078.5" stroke="#454545" stroke-width="0.75"/>
<path d="M2085.5 183.5V126.5M2083.5 126.5H2087.5M2085.5 358.5V453.5M2083.5 453.5H2087.5" stroke="#454545" stroke-width="0.75" stroke-linecap="square" fill="none"/>
<rect x="2080.5" y="183.5" width="9.0" height="175.0" fill="#6aa4bf" stroke="#454545" stroke-width="0.75"/>
<path d="M2080.5 197.5H2089.5" stroke="#454545" stroke-width="0.75"/>
<path d="M2096.5 197.5V123.5M2093.5 123.5H2098.5M2096.5 360.5V432.5M2093.5 432.5H2098.5" stroke="#454545" stroke-width="0.75" stroke-linecap="square" fill="none"/>
<rect x="2091.5" y="197.5" width="9.0" height="163.0" fill="#6ba5c1" stroke="#454545" stroke-width="0.75"/>
<path d="M2091.5 231.5H2100.5" stroke="#454545" stroke-width="0.75"/>
<path d="M2106.5 197.5V121.5M2104.5 121.5H2109.5M2106.5 369.5V436.5M2104.5 436.5H2109.5" stroke="#454545" stroke-width="0.75" stroke-linecap="square" fill="none"/>
<rect x="2102.5" y="197.5" width="9.0" height="172.0" fill="#6ba5c3" stroke="#454545" stroke-width="0.75"/>
<path d="M2102.5 238.5H2111.5" stroke="#454545" stroke-width="0.75"/>
<path d="M2117.5 204.5V151.5M2115.5 151.5H2119.5M2117.5 379.5V449.5M2115.5 449.5H2119.5" stroke="#454545" stroke-width="0.75" stroke-linecap="square" fill="none"/>
<rect x="2113.5" y="204.5" width="9.0" height="175.0" fill="#6ca6c5" stroke="#454545" stroke-width="0.75"/>
<path d="M2113.5 237.5H2122.5" stroke="#454545" stroke-width="0.75"/>
<path d="M2128.5 204.5V117.5M2126.5 117.5H2130.5M2128.5 396.5V478.5M2126.5 478.5H2130.5" stroke="#454545" stroke-width="0.75" stroke-linecap="square" fill="none"/>
<rect x="2124.5" y="204.5" width="8.0" height="192.0" fill="#6da6c7" stroke="#454545" stroke-width="0.75"/>
<path d="M2124.5 227.5H2132.5" stroke="#454545" stroke-width="0.75"/>
<path d="M2139.5 193.5V136.5M2137.5 136.5H2141.5M2139.5 394.5V460.5M2137.5 460.5H2141.5" stroke="#454545" stroke-width="0.75" stroke-linecap="square" fill="none"/>
<rect x="2134.5" y="193.5" width="9.0" height="201.0" fill="#6ea7c9" stroke="#454545" stroke-width="0.75"/>
<path d="M2134.5 240.5H2143.5" stroke="#454545" stroke-width="0.75"/>
<path d="M2150.5 219.5V152.5M2147.5 152.5H2152.5M2150.5 389.5V453.5M2147.5 453.5H2152.5" stroke="#454545" stroke-width="0.75" stroke-linecap="square" fill="none"/>
<rect x="2145.5" y="219.5" width="9.0" height="170.0" fill="#75a9cb" stroke="#454545" stroke-width="0.75"/>
<path d="M2145.5 238.5H2154.5" stroke="#454545" stroke-width="0.75"/>
<path d="M2160.5 207.5V117.5M2158.5 117.5H2163.5M2160.5 401.5V458.5M2158.5 458.5H2163.5" stroke="#454545" stroke-width="0.75" stroke-linecap="square" fill="none"/>
<rect x="2156.5" y="207.5" width="9.0" height="194.0" fill="#7baacd" stroke="#454545" stroke-width="0.75"/>
<path d="M2156.5 244.5H2165.5" stroke="#454545" stroke-width="0.75"/>
<path d="M2171.5 208.5V115.5M2169.5 115.5H2173.5M2171.5 395.5V473.5M2169.5 473.5H2173.5" stroke="#454545" stroke-width="0.75" stroke-linecap="square" fill="none"/>
<rect x="2167.5" y="208.5" width="9.0" height="187.0" fill="#80accf" stroke="#454545" stroke-width="0.75"/>
<path d="M2167.5 248.5H2176.5" stroke="#454545" stroke-width="0.75"/>
<path d="M2182.5 214.5V77.5M2180.5 77.5H2184.5M2182.5 390.5V469.5M2180.5 469.5H2184.5" stroke="#454545" stroke-width="0.75" stroke-linecap="square" fill="none"/>
<rect x="2178.5" y="214.5" width="8.0" height="176.0" fill="#85add0" stroke="#454545" stroke-width="0.75"/>
<path d="M2178.5 267.5H2186.5" stroke="#454545" stroke-width="0.75"/>
<path d="M2193.5 232.5V127.5M2191.5 127.5H2195.5M2193.5 402.5V483.5M2191.5 483.5H2195.5" stroke="#454545" stroke-width="0.75" stroke-linecap="square" fill="none"/>
<rect x="2188.5" y="232.5" width="9.0" height="170.0" fill="#89aed2" stroke="#454545" stroke-width="0.75"/>
<path d="M2188.5 288.5H2197.5" stroke="#454545" stroke-width="0.75"/>
<path d="M2204.5 226.5V138.5M2201.5 138.5H2206.5M2204.5 409.5V479.5M2201.5 479.5H2206.5" stroke="#454545" stroke-width="0.75" stroke-linecap="square" fill="none"/>
<rect x="2199.5" y="226.5" width="9.0" height="183.0" fill="#8dafd3" stroke="#454545" stroke-width="0.75"/>
<path d="M2199.5 249.5H2208.5" stroke="#454545" stroke-width="0.75"/>
<path d="M2214.5 246.5V144.5M2212.5 144.5H2217.5M2214.5 420.5V490.5M2212.5 490.5H2217.5" stroke="#454545" stroke-width="0.75" stroke-linecap="square" fill="none"/>
<rect x="2210.5" y="246.5" width="9.0" height="174.0" fill="#91b0d4" stroke="#454545" stroke-width="0.75"/>
<path d="M2210.5 274.5H2219.5" stroke="#454545" stroke-width="0.75"/>
<path d="M2225.5 227.5V146.5M2223.5 146.5H2227.5M2225.5 416.5V506.5M2223.5 506.5H2227.5" stroke="#454545" stroke-width="0.75" stroke-linecap="square" fill="none"/>
<rect x="2221.5" y="227.5" width="9.0" height="189.0" fill="#94b0d5" stroke="#454545" stroke-width="0.75"/>
<path d="M2221.5 281.5H2230.5" stroke="#454545" stroke-width="0.75"/>
<path d="M2236.5 230.5V146.5M2234.5 146.5H2238.5M2236.5 425.5V508.5M2234.5 508.5H2238.5" stroke="#454545" stroke-width="0.75" stroke-linecap="square" fill="none"/>
<rect x="2232.5" y="230.5" width="8.0" height="195.0" fill="#98b1d7" stroke="#454545" stroke-width="0.75"/>
<path d="M2232.5 267.5H2240.5" stroke="#454545" stroke-width="0.75"/>
<path d="M2247.5 255.5V139.5M2245.5 139.5H2249.5M2247.5 421.5V494.5M2245.5 494.5H2249.5" stroke="#454545" stroke-width="0.75" stroke-linecap="square" fill="none"/>
<rect x="2242.5" y="255.5" width="9.0" height="166.0" fill="#9bb2d8" stroke="#454545" stroke-width="0.75"/>
<path d="M2242.5 267.5H2251.5" stroke="#454545" stroke-width="0.75"/>
<path d="M2258.5 253.5V141.5M2255.5 141.5H2260.5M2258.5 429.5V490.5M2255.5 490.5H2260.5" stroke="#454545" stroke-width="0.75" stroke-linecap="square" fill="none"/>
<rect x="2253.5" y="253.5" width="9.0" height="176.0" fill="#9eb2d9" stroke="#454545" stroke-width="0.75"/>
<path d="M2253.5 279.5H2262.5" stroke="#454545" stroke-width="0.75"/>
<path d="M2268.5 250.5V169.5M2266.5 169.5H2271.5M2268.5 421.5V494.5M2266.5 494.5H2271.5" stroke="#454545" stroke-width="0.75" stroke-linecap="square" fill="none"/>
<rect x="2264.5" y="250.5" width="9.0" height="171.0" fill="#a0b3d9" stroke="#454545" stroke-width="0.75"/>
<path d="M2264.5 292.5H2273.5" stroke="#454545" stroke-width="0.75"/>
<path d="M2279.5 266.5V156.5M2277.5 156.5H2281.5M2279.5 439.5V563.5M2277.5 563.5H2281.5" stroke="#454545" stroke-width="0.75" stroke-linecap="square" fill="none"/>
<rect x="2275.5" y="266.5" width="9.0" height="173.0" fill="#a3b3da" stroke="#454545" stroke-width="0.75"/>
<path d="M2275.5 297.5H2284.5" stroke="#454545" stroke-width="0.75"/>
<path d="M2290.5 251.5V145.5M2288.5 145.5H2292.5M2290.5 434.5V505.5M2288.5 505.5H2292.5" stroke="#454545" stroke-width="0.75" stroke-linecap="square" fill="none"/>
<rect x="2286.5" y="251.5" width="8.0" height="183.0" fill="#a6b4db" stroke="#454545" stroke-width="0.75"/>
<path d="M2286.5 314.5H2294.5" stroke="#454545" stroke-width="0.75"/>
<path d="M2301.5 262.5V181.5M2299.5 181.5H2303.5M2301.5 420.5V497.5M2299.5 497.5H2303.5" stroke="#454545" stroke-width="0.75" stroke-linecap="square" fill="none"/>
<rect x="2296.5" y="262.5" width="9.0" height="158.0" fill="#a8b4dc" stroke="#454545" stroke-width="0.75"/>
<path d="M2296.5 309.5H2305.5" stroke="#454545" stroke-width="0.75"/>
<path d="M2312.5 286.5V207.5M2309.5 207.5H2314.5M2312.5 420.5V492.5M2309.5 492.5H2314.5" stroke="#454545" stroke-width="0.75" stroke-linecap="square" fill="none"/>
<rect x="2307.5" y="286.5" width="9.0" height="134.0" fill="#aab5dd" stroke="#454545" stroke-width="0.75"/>
<path d="M2307.5 319.5H2316.5" stroke="#454545" stroke-width="0.75"/>
<path d="M2322.5 280.5V183.5M2320.5 183.5H2325.5M2322.5 428.5V495.5M2320.5 495.5H2325.5" stroke="#454545" stroke-width="0.75" stroke-linecap="square" fill="none"/>
<rect x="2318.5" y="280.5" width="9.0" height="148.0" fill="#adb5de" stroke="#454545" stroke-width="0.75"/>
<path d="M2318.5 335.5H2327.5" stroke="#454545" stroke-width="0.75"/>
<path d="M2333.5 266.5V193.5M2331.5 193.5H2335.5M2333.5 421.5V494.5M2331.5 494.5H2335.5" stroke="#454545" stroke-width="0.75" stroke-linecap="square" fill="none"/>
<rect x="2329.5" y="266.5" width="9.0" height="155.0" fill="#afb5de" stroke="#454545" stroke-width="0.75"/>
<path d="M2329.5 312.5H2338.5" stroke="#454545" stroke-width="0.75"/>
<path d="M2344.5 278.5V236.5M2342.5 236.5H2346.5M2344.5 421.5V489.5M2342.5 489.5H2346.5" stroke="#454545" stroke-width="0.75" stroke-linecap="square" fill="none"/>
<rect x="2340.5" y="278.5" width="8.0" height="143.0" fill="#b1b6df" stroke="#454545" stroke-width="0.75"/>
<path d="M2340.5 337.5H2348.5" stroke="#454545" stroke-width="0.75"/>
<path d="M2355.5 279.5V254.5M2353.5 254.5H2357.5M2355.5 424.5V482.5M2353.5 482.5H2357.5" stroke="#454545" stroke-width="0.75" stroke-linecap="square" fill="none"/>
<rect x="2350.5" y="279.5" width="9.0" height="145.0" fill="#b3b6e0" stroke="#454545" stroke-width="0.75"/>
<path d="M2350.5 355.5H2359.5" stroke="#454545" stroke-width="0.75"/>
<path d="M2366.5 304.5V259.5M2363.5 259.5H2368.5M2366.5 447.5V491.5M2363.5 491.5H2368.5" stroke="#454545" stroke-width="0.75" stroke-linecap="square" fill="none"/>
<rect x="2361.5" y="304.5" width="9.0" height="143.0" fill="#b5b6e0" stroke="#454545" stroke-width="0.75"/>
<path d="M2361.5 341.5H2370.5" stroke="#454545" stroke-width="0.75"/>
<path d="M2376.5 297.5V257.5M2374.5 257.5H2379.5M2376.5 429.5V490.5M2374.5 490.5H2379.5" stroke="#454545" stroke-width="0.75" stroke-linecap="square" fill="none"/>
<rect x="2372.5" y="297.5" width="9.0" height="132.0" fill="#b7b6e1" stroke="#454545" stroke-width="0.75"/>
<path d="M2372.5 350.5H2381.5" stroke="#454545" stroke-width="0.75"/>
<path d="M2387.5 313.5V249.5M2385.5 249.5H2389.5M2387.5 429.5V498.5M2385.5 498.5H2389.5" stroke="#454545" stroke-width="0.75" stroke-linecap="square" fill="none"/>
<rect x="2383.5" y="313.5" width="9.0" height="116.0" fill="#b8b5e0" stroke="#454545" stroke-width="0.75"/>
<path d="M2383.5 348.5H2392.5" stroke="#454545" stroke-width="0.75"/>
<path d="M2398.5 302.5V264.5M2396.5 264.5H2400.5M2398.5 420.5V481.5M2396.5 481.5H2400.5" stroke="#454545" stroke-width="0.75" stroke-linecap="square" fill="none"/>
<rect x="2394.5" y="302.5" width="8.0" height="118.0" fill="#b9b5e0" stroke="#454545" stroke-width="0.75"/>
<path d="M2394.5 352.5H2402.5" stroke="#454545" stroke-width="0.75"/>
<path d="M2409.5 327.5V288.5M2407.5 288.5H2411.5M2409.5 415.5V481.5M2407.5 481.5H2411.5" stroke="#454545" stroke-width="0.75" stroke-linecap="square" fill="none"/>
<rect x="2404.5" y="327.5" width="9.0" height="88.0" fill="#bab4e0" stroke="#454545" stroke-width="0.75"/>
<path d="M2404.5 360.5H2413.5" stroke="#454545" stroke-width="0.75"/>
<path d="M2420.5 320.5V288.5M2417.5 288.5H2422.5M2420.5 411.5V482.5M2417.5 482.5H2422.5" stroke="#454545" stroke-width="0.75" stroke-linecap="square" fill="none"/>
<rect x="2415.5" y="320.5" width="9.0" height="91.0" fill="#bbb3e0" stroke="#454545" stroke-width="0.75"/>
<path d="M2415.5 364.5H2424.5" stroke="#454545" stroke-width="0.75"/>
<path d="M2430.5 335.5V243.5M2428.5 243.5H2433.5M2430.5 410.5V483.5M2428.5 483.5H2433.5" stroke="#454545" stroke-width="0.75" stroke-linecap="square" fill="none"/>
<rect x="2426.5" y="335.5" width="9.0" height="75.0" fill="#bcb3e0" stroke="#454545" stroke-width="0.75"/>
<path d="M2426.5 364.5H2435.5" stroke="#454545" stroke-width="0.75"/>
<path d="M2441.5 325.5V288.5M2439.5 288.5H2443.5M2441.5 418.5V495.5M2439.5 495.5H2443.5" stroke="#454545" stroke-width="0.75" stroke-linecap="square" fill="none"/>
<rect x="2437.5" y="325.5" width="9.0" height="93.0" fill="#bdb2df" stroke="#454545" stroke-width="0.75"/>
<path d="M2437.5 358.5H2446.5" stroke="#454545" stroke-width="0.75"/>
<path d="M2452.5 353.5V284.5M2450.5 284.5H2454.5M2452.5 402.5V473.5M2450.5 473.5H2454.5" stroke="#454545" stroke-width="0.75" stroke-linecap="square" fill="none"/>
<rect x="2448.5" y="353.5" width="8.0" height="49.0" fill="#beb2df" stroke="#454545" stroke-width="0.75"/>
<path d="M2448.5 377.5H2456.5" stroke="#454545" stroke-width="0.75"/>
<path d="M2452.50 252.59L2455.60 257.79L2452.50 262.99L2449.40 257.79Z" fill="#454545" stroke="#454545" stroke-width="0.8" stroke-linejoin="round"/>
<path d="M2452.50 480.32L2455.60 485.52L2452.50 490.72L2449.40 485.52Z" fill="#454545" stroke="#454545" stroke-width="0.8" stroke-linejoin="round"/>
<path d="M2463.5 333.5V284.5M2461.5 284.5H2465.5M2463.5 417.5V486.5M2461.5 486.5H2465.5" stroke="#454545" stroke-width="0.75" stroke-linecap="square" fill="none"/>
<rect x="2458.5" y="333.5" width="9.0" height="84.0" fill="#bfb1df" stroke="#454545" stroke-width="0.75"/>
<path d="M2458.5 369.5H2467.5" stroke="#454545" stroke-width="0.75"/>
<path d="M2474.5 356.5V296.5M2471.5 296.5H2476.5M2474.5 413.5V495.5M2471.5 495.5H2476.5" stroke="#454545" stroke-width="0.75" stroke-linecap="square" fill="none"/>
<rect x="2469.5" y="356.5" width="9.0" height="57.0" fill="#c0b0df" stroke="#454545" stroke-width="0.75"/>
<path d="M2469.5 383.5H2478.5" stroke="#454545" stroke-width="0.75"/>
<path d="M2484.5 353.5V305.5M2482.5 305.5H2487.5M2484.5 410.5V477.5M2482.5 477.5H2487.5" stroke="#454545" stroke-width="0.75" stroke-linecap="square" fill="none"/>
<rect x="2480.5" y="353.5" width="9.0" height="57.0" fill="#c1afde" stroke="#454545" stroke-width="0.75"/>
<path d="M2480.5 369.5H2489.5" stroke="#454545" stroke-width="0.75"/>
<path d="M2484.91 491.22L2488.01 496.42L2484.91 501.62L2481.81 496.42Z" fill="#454545" stroke="#454545" stroke-width="0.8" stroke-linejoin="round"/>
<path d="M2495.5 340.5V318.5M2493.5 318.5H2497.5M2495.5 412.5V491.5M2493.5 491.5H2497.5" stroke="#454545" stroke-width="0.75" stroke-linecap="square" fill="none"/>
<rect x="2491.5" y="340.5" width="9.0" height="72.0" fill="#c2afde" stroke="#454545" stroke-width="0.75"/>
<path d="M2491.5 376.5H2500.5" stroke="#454545" stroke-width="0.75"/>
<path d="M2506.5 343.5V272.5M2504.5 272.5H2508.5M2506.5 418.5V500.5M2504.5 500.5H2508.5" stroke="#454545" stroke-width="0.75" stroke-linecap="square" fill="none"/>
<rect x="2502.5" y="343.5" width="8.0" height="75.0" fill="#c3aede" stroke="#454545" stroke-width="0.75"/>
<path d="M2502.5 384.5H2510.5" stroke="#454545" stroke-width="0.75"/>
<path d="M2517.5 339.5V294.5M2515.5 294.5H2519.5M2517.5 411.5V490.5M2515.5 490.5H2519.5" stroke="#454545" stroke-width="0.75" stroke-linecap="square" fill="none"/>
<rect x="2512.5" y="339.5" width="9.0" height="72.0" fill="#c4adde" stroke="#454545" stroke-width="0.75"/>
<path d="M2512.5 387.5H2521.5" stroke="#454545" stroke-width="0.75"/>
<path d="M2528.5 350.5V298.5M2525.5 298.5H2530.5M2528.5 425.5V497.5M2525.5 497.5H2530.5" stroke="#454545" stroke-width="0.75" stroke-linecap="square" fill="none"/>
<rect x="2523.5" y="350.5" width="9.0" height="75.0" fill="#c5addd" stroke="#454545" stroke-width="0.75"/>
<path d="M2523.5 381.5H2532.5" stroke="#454545" stroke-width="0.75"/>
<path d="M2538.5 355.5V310.5M2536.5 310.5H2541.5M2538.5 415.5V490.5M2536.5 490.5H2541.5" stroke="#454545" stroke-width="0.75" stroke-linecap="square" fill="none"/>
<rect x="2534.5" y="355.5" width="9.0" height="60.0" fill="#c6acdd" stroke="#454545" stroke-width="0.75"/>
<path d="M2534.5 384.5H2543.5" stroke="#454545" stroke-width="0.75"/>
<path d="M2549.5 354.5V293.5M2547.5 293.5H2551.5M2549.5 414.5V472.5M2547.5 472.5H2551.5" stroke="#454545" stroke-width="0.75" stroke-linecap="square" fill="none"/>
<rect x="2545.5" y="354.5" width="9.0" height="60.0" fill="#c7abdd" stroke="#454545" stroke-width="0.75"/>
<path d="M2545.5 367.5H2554.5" stroke="#454545" stroke-width="0.75"/>
<path d="M2549.73 502.41L2552.83 507.61L2549.73 512.81L2546.63 507.61Z" fill="#454545" stroke="#454545" stroke-width="0.8" stroke-linejoin="round"/>
<path d="M2560.5 350.5V299.5M2558.5 299.5H2562.5M2560.5 409.5V490.5M2558.5 490.5H2562.5" stroke="#454545" stroke-width="0.75" stroke-linecap="square" fill="none"/>
<rect x="2556.5" y="350.5" width="8.0" height="59.0" fill="#c8aadd" stroke="#454545" stroke-width="0.75"/>
<path d="M2556.5 395.5H2564.5" stroke="#454545" stroke-width="0.75"/>
<path d="M2571.5 341.5V281.5M2569.5 281.5H2573.5M2571.5 410.5V495.5M2569.5 495.5H2573.5" stroke="#454545" stroke-width="0.75" stroke-linecap="square" fill="none"/>
<rect x="2566.5" y="341.5" width="9.0" height="69.0" fill="#c9a9dc" stroke="#454545" stroke-width="0.75"/>
<path d="M2566.5 396.5H2575.5" stroke="#454545" stroke-width="0.75"/>
<path d="M2582.5 361.5V311.5M2579.5 311.5H2584.5M2582.5 403.5V456.5M2579.5 456.5H2584.5" stroke="#454545" stroke-width="0.75" stroke-linecap="square" fill="none"/>
<rect x="2577.5" y="361.5" width="9.0" height="42.0" fill="#caa8dc" stroke="#454545" stroke-width="0.75"/>
<path d="M2577.5 383.5H2586.5" stroke="#454545" stroke-width="0.75"/>
<path d="M2582.14 479.50L2585.24 484.70L2582.14 489.90L2579.04 484.70Z" fill="#454545" stroke="#454545" stroke-width="0.8" stroke-linejoin="round"/>
<path d="M2582.14 488.28L2585.24 493.48L2582.14 498.68L2579.04 493.48Z" fill="#454545" stroke="#454545" stroke-width="0.8" stroke-linejoin="round"/>
<path d="M2592.5 362.5V305.5M2590.5 305.5H2595.5M2592.5 430.5V493.5M2590.5 493.5H2595.5" stroke="#454545" stroke-width="0.75" stroke-linecap="square" fill="none"/>
<rect x="2588.5" y="362.5" width="9.0" height="68.0" fill="#cba8dc" stroke="#454545" stroke-width="0.75"/>
<path d="M2588.5 399.5H2597.5" stroke="#454545" stroke-width="0.75"/>
<path d="M2603.5 357.5V283.5M2601.5 283.5H2605.5M2603.5 413.5V490.5M2601.5 490.5H2605.5" stroke="#454545" stroke-width="0.75" stroke-linecap="square" fill="none"/>
<rect x="2599.5" y="357.5" width="9.0" height="56.0" fill="#cca7db" stroke="#454545" stroke-width="0.75"/>
<path d="M2599.5 387.5H2608.5" stroke="#454545" stroke-width="0.75"/>
<path d="M2614.5 360.5V281.5M2612.5 281.5H2616.5M2614.5 424.5V505.5M2612.5 505.5H2616.5" stroke="#454545" stroke-width="0.75" stroke-linecap="square" fill="none"/>
<rect x="2610.5" y="360.5" width="8.0" height="64.0" fill="#cca6db" stroke="#454545" stroke-width="0.75"/>
<path d="M2610.5 389.5H2618.5" stroke="#454545" stroke-width="0.75"/>
<path d="M2625.5 367.5V347.5M2623.5 347.5H2627.5M2625.5 410.5V469.5M2623.5 469.5H2627.5" stroke="#454545" stroke-width="0.75" stroke-linecap="square" fill="none"/>
<rect x="2620.5" y="367.5" width="9.0" height="43.0" fill="#cda5db" stroke="#454545" stroke-width="0.75"/>
<path d="M2620.5 380.5H2629.5" stroke="#454545" stroke-width="0.75"/>
<path d="M2625.35 251.57L2628.45 256.77L2625.35 261.97L2622.25 256.77Z" fill="#454545" stroke="#454545" stroke-width="0.8" stroke-linejoin="round"/>
<path d="M2625.35 279.39L2628.45 284.59L2625.35 289.79L2622.25 284.59Z" fill="#454545" stroke="#454545" stroke-width="0.8" stroke-linejoin="round"/>
<path d="M2625.35 481.07L2628.45 486.27L2625.35 491.47L2622.25 486.27Z" fill="#454545" stroke="#454545" stroke-width="0.8" stroke-linejoin="round"/>
<path d="M2625.35 484.20L2628.45 489.40L2625.35 494.60L2622.25 489.40Z" fill="#454545" stroke="#454545" stroke-width="0.8" stroke-linejoin="round"/>
<path d="M2636.5 349.5V293.5M2633.5 293.5H2638.5M2636.5 401.5V478.5M2633.5 478.5H2638.5" stroke="#454545" stroke-width="0.75" stroke-linecap="square" fill="none"/>
<rect x="2631.5" y="349.5" width="9.0" height="52.0" fill="#cea4da" stroke="#454545" stroke-width="0.75"/>
<path d="M2631.5 372.5H2640.5" stroke="#454545" stroke-width="0.75"/>
<path d="M2636.16 479.50L2639.26 484.70L2636.16 489.90L2633.06 484.70Z" fill="#454545" stroke="#454545" stroke-width="0.8" stroke-linejoin="round"/>
<path d="M2646.5 361.5V271.5M2644.5 271.5H2649.5M2646.5 421.5V496.5M2644.5 496.5H2649.5" stroke="#454545" stroke-width="0.75" stroke-linecap="square" fill="none"/>
<rect x="2642.5" y="361.5" width="9.0" height="60.0" fill="#cfa3da" stroke="#454545" stroke-width="0.75"/>
<path d="M2642.5 379.5H2651.5" stroke="#454545" stroke-width="0.75"/>
<path d="M2657.5 350.5V263.5M2655.5 263.5H2659.5M2657.5 412.5V483.5M2655.5 483.5H2659.5" stroke="#454545" stroke-width="0.75" stroke-linecap="square" fill="none"/>
<rect x="2653.5" y="350.5" width="9.0" height="62.0" fill="#d0a1da" stroke="#454545" stroke-width="0.75"/>
<path d="M2653.5 366.5H2662.5" stroke="#454545" stroke-width="0.75"/>
<path d="M2668.5 350.5V326.5M2666.5 326.5H2670.5M2668.5 394.5V453.5M2666.5 453.5H2670.5" stroke="#454545" stroke-width="0.75" stroke-linecap="square" fill="none"/>
<rect x="2664.5" y="350.5" width="8.0" height="44.0" fill="#d1a0d9" stroke="#454545" stroke-width="0.75"/>
<path d="M2664.5 371.5H2672.5" stroke="#454545" stroke-width="0.75"/>
<path d="M2668.56 274.51L2671.66 279.71L2668.56 284.91L2665.46 279.71Z" fill="#454545" stroke="#454545" stroke-width="0.8" stroke-linejoin="round"/>
<path d="M2668.56 464.13L2671.66 469.33L2668.56 474.53L2665.46 469.33Z" fill="#454545" stroke="#454545" stroke-width="0.8" stroke-linejoin="round"/>
<path d="M2668.56 491.10L2671.66 496.30L2668.56 501.50L2665.46 496.30Z" fill="#454545" stroke="#454545" stroke-width="0.8" stroke-linejoin="round"/>
<path d="M2679.5 346.5V282.5M2677.5 282.5H2681.5M2679.5 421.5V490.5M2677.5 490.5H2681.5" stroke="#454545" stroke-width="0.75" stroke-linecap="square" fill="none"/>
<rect x="2674.5" y="346.5" width="9.0" height="75.0" fill="#d29fd9" stroke="#454545" stroke-width="0.75"/>
<path d="M2674.5 382.5H2683.5" stroke="#454545" stroke-width="0.75"/>
<path d="M2690.5 353.5V291.5M2687.5 291.5H2692.5M2690.5 431.5V497.5M2687.5 497.5H2692.5" stroke="#454545" stroke-width="0.75" stroke-linecap="square" fill="none"/>
<rect x="2685.5" y="353.5" width="9.0" height="78.0" fill="#d39ed8" stroke="#454545" stroke-width="0.75"/>
<path d="M2685.5 382.5H2694.5" stroke="#454545" stroke-width="0.75"/>
<path d="M2700.5 359.5V290.5M2698.5 290.5H2703.5M2700.5 406.5V458.5M2698.5 458.5H2703.5" stroke="#454545" stroke-width="0.75" stroke-linecap="square" fill="none"/>
<rect x="2696.5" y="359.5" width="9.0" height="47.0" fill="#d49cd8" stroke="#454545" stroke-width="0.75"/>
<path d="M2696.5 369.5H2705.5" stroke="#454545" stroke-width="0.75"/>
<path d="M2700.97 471.66L2704.07 476.86L2700.97 482.06L2697.87 476.86Z" fill="#454545" stroke="#454545" stroke-width="0.8" stroke-linejoin="round"/>
<path d="M2700.97 475.42L2704.07 480.62L2700.97 485.82L2697.87 480.62Z" fill="#454545" stroke="#454545" stroke-width="0.8" stroke-linejoin="round"/>
<path d="M2711.5 373.5V316.5M2709.5 316.5H2713.5M2711.5 413.5V445.5M2709.5 445.5H2713.5" stroke="#454545" stroke-width="0.75" stroke-linecap="square" fill="none"/>
<rect x="2707.5" y="373.5" width="9.0" height="40.0" fill="#d59bd8" stroke="#454545" stroke-width="0.75"/>
<path d="M2707.5 389.5H2716.5" stroke="#454545" stroke-width="0.75"/>
<path d="M2711.78 269.35L2714.88 274.55L2711.78 279.75L2708.68 274.55Z" fill="#454545" stroke="#454545" stroke-width="0.8" stroke-linejoin="round"/>
<path d="M2711.78 474.17L2714.88 479.37L2711.78 484.57L2708.68 479.37Z" fill="#454545" stroke="#454545" stroke-width="0.8" stroke-linejoin="round"/>
<path d="M2711.78 484.20L2714.88 489.40L2711.78 494.60L2708.68 489.40Z" fill="#454545" stroke="#454545" stroke-width="0.8" stroke-linejoin="round"/>
<path d="M2722.5 359.5V269.5M2720.5 269.5H2724.5M2722.5 419.5V485.5M2720.5 485.5H2724.5" stroke="#454545" stroke-width="0.75" stroke-linecap="square" fill="none"/>
<rect x="2718.5" y="359.5" width="8.0" height="60.0" fill="#d699d7" stroke="#454545" stroke-width="0.75"/>
<path d="M2718.5 380.5H2726.5" stroke="#454545" stroke-width="0.75"/>
<path d="M2733.5 363.5V298.5M2731.5 298.5H2735.5M2733.5 410.5V456.5M2731.5 456.5H2735.5" stroke="#454545" stroke-width="0.75" stroke-linecap="square" fill="none"/>
<rect x="2728.5" y="363.5" width="9.0" height="47.0" fill="#d698d6" stroke="#454545" stroke-width="0.75"/>
<path d="M2728.5 389.5H2737.5" stroke="#454545" stroke-width="0.75"/>
<path d="M2733.38 485.14L2736.48 490.34L2733.38 495.54L2730.28 490.34Z" fill="#454545" stroke="#454545" stroke-width="0.8" stroke-linejoin="round"/>
<path d="M2744.5 357.5V297.5M2741.5 297.5H2746.5M2744.5 405.5V475.5M2741.5 475.5H2746.5" stroke="#454545" stroke-width="0.75" stroke-linecap="square" fill="none"/>
<rect x="2739.5" y="357.5" width="9.0" height="48.0" fill="#d798d5" stroke="#454545" stroke-width="0.75"/>
<path d="M2739.5 385.5H2748.5" stroke="#454545" stroke-width="0.75"/>
<path d="M2744.18 480.44L2747.28 485.64L2744.18 490.84L2741.09 485.64Z" fill="#454545" stroke="#454545" stroke-width="0.8" stroke-linejoin="round"/>
<path d="M2754.5 360.5V313.5M2752.5 313.5H2757.5M2754.5 411.5V469.5M2752.5 469.5H2757.5" stroke="#454545" stroke-width="0.75" stroke-linecap="square" fill="none"/>
<rect x="2750.5" y="360.5" width="9.0" height="51.0" fill="#d799d4" stroke="#454545" stroke-width="0.75"/>
<path d="M2750.5 375.5H2759.5" stroke="#454545" stroke-width="0.75"/>
<path d="M2754.99 263.33L2758.09 268.53L2754.99 273.73L2751.89 268.53Z" fill="#454545" stroke="#454545" stroke-width="0.8" stroke-linejoin="round"/>
<path d="M2754.99 485.14L2758.09 490.34L2754.99 495.54L2751.89 490.34Z" fill="#454545" stroke="#454545" stroke-width="0.8" stroke-linejoin="round"/>
<path d="M2765.5 359.5V297.5M2763.5 297.5H2767.5M2765.5 425.5V493.5M2763.5 493.5H2767.5" stroke="#454545" stroke-width="0.75" stroke-linecap="square" fill="none"/>
<rect x="2761.5" y="359.5" width="9.0" height="66.0" fill="#d799d3" stroke="#454545" stroke-width="0.75"/>
<path d="M2761.5 392.5H2770.5" stroke="#454545" stroke-width="0.75"/>
<path d="M2776.5 361.5V292.5M2774.5 292.5H2778.5M2776.5 407.5V471.5M2774.5 471.5H2778.5" stroke="#454545" stroke-width="0.75" stroke-linecap="square" fill="none"/>
<rect x="2772.5" y="361.5" width="8.0" height="46.0" fill="#d79ad2" stroke="#454545" stroke-width="0.75"/>
<path d="M2772.5 387.5H2780.5" stroke="#454545" stroke-width="0.75"/>
<path d="M2776.59 274.51L2779.69 279.71L2776.59 284.91L2773.49 279.71Z" fill="#454545" stroke="#454545" stroke-width="0.8" stroke-linejoin="round"/>
<path d="M2776.59 484.20L2779.69 489.40L2776.59 494.60L2773.49 489.40Z" fill="#454545" stroke="#454545" stroke-width="0.8" stroke-linejoin="round"/>
<path d="M2787.5 360.5V310.5M2785.5 310.5H2789.5M2787.5 410.5V472.5M2785.5 472.5H2789.5" stroke="#454545" stroke-width="0.75" stroke-linecap="square" fill="none"/>
<rect x="2782.5" y="360.5" width="9.0" height="50.0" fill="#d79ad1" stroke="#454545" stroke-width="0.75"/>
<path d="M2782.5 385.5H2791.5" stroke="#454545" stroke-width="0.75"/>
<path d="M2787.40 491.42L2790.50 496.62L2787.40 501.82L2784.30 496.62Z" fill="#454545" stroke="#454545" stroke-width="0.8" stroke-linejoin="round"/>
<path d="M2798.5 367.5V306.5M2796.5 306.5H2800.5M2798.5 435.5V493.5M2796.5 493.5H2800.5" stroke="#454545" stroke-width="0.75" stroke-linecap="square" fill="none"/>
<rect x="2793.5" y="367.5" width="9.0" height="68.0" fill="#d89bd0" stroke="#454545" stroke-width="0.75"/>
<path d="M2793.5 387.5H2802.5" stroke="#454545" stroke-width="0.75"/>
<path d="M2798.20 553.21L2801.30 558.41L2798.20 563.61L2795.10 558.41Z" fill="#454545" stroke="#454545" stroke-width="0.8" stroke-linejoin="round"/>
<path d="M2809.5 368.5V320.5M2806.5 320.5H2811.5M2809.5 429.5V494.5M2806.5 494.5H2811.5" stroke="#454545" stroke-width="0.75" stroke-linecap="square" fill="none"/>
<rect x="2804.5" y="368.5" width="9.0" height="61.0" fill="#d89bce" stroke="#454545" stroke-width="0.75"/>
<path d="M2804.5 394.5H2813.5" stroke="#454545" stroke-width="0.75"/>
<path d="M2809.00 547.88L2812.10 553.08L2809.00 558.28L2805.90 553.08Z" fill="#454545" stroke="#454545" stroke-width="0.8" stroke-linejoin="round"/>
<path d="M2819.5 362.5V303.5M2817.5 303.5H2822.5M2819.5 429.5V506.5M2817.5 506.5H2822.5" stroke="#454545" stroke-width="0.75" stroke-linecap="square" fill="none"/>
<rect x="2815.5" y="362.5" width="9.0" height="67.0" fill="#d89bcd" stroke="#454545" stroke-width="0.75"/>
<path d="M2815.5 385.5H2824.5" stroke="#454545" stroke-width="0.75"/>
<path d="M2830.5 364.5V323.5M2828.5 323.5H2832.5M2830.5 426.5V495.5M2828.5 495.5H2832.5" stroke="#454545" stroke-width="0.75" stroke-linecap="square" fill="none"/>
<rect x="2826.5" y="364.5" width="9.0" height="62.0" fill="#d89ccc" stroke="#454545" stroke-width="0.75"/>
<path d="M2826.5 390.5H2835.5" stroke="#454545" stroke-width="0.75"/>
<path d="M2841.5 363.5V303.5M2839.5 303.5H2843.5M2841.5 417.5V493.5M2839.5 493.5H2843.5" stroke="#454545" stroke-width="0.75" stroke-linecap="square" fill="none"/>
<rect x="2837.5" y="363.5" width="8.0" height="54.0" fill="#d89ccb" stroke="#454545" stroke-width="0.75"/>
<path d="M2837.5 397.5H2845.5" stroke="#454545" stroke-width="0.75"/>
<path d="M2852.5 360.5V321.5M2850.5 321.5H2854.5M2852.5 429.5V510.5M2850.5 510.5H2854.5" stroke="#454545" stroke-width="0.75" stroke-linecap="square" fill="none"/>
<rect x="2847.5" y="360.5" width="9.0" height="69.0" fill="#d89ccb" stroke="#454545" stroke-width="0.75"/>
<path d="M2847.5 388.5H2856.5" stroke="#454545" stroke-width="0.75"/>
<path d="M2863.5 362.5V302.5M2860.5 302.5H2865.5M2863.5 431.5V506.5M2860.5 506.5H2865.5" stroke="#454545" stroke-width="0.75" stroke-linecap="square" fill="none"/>
<rect x="2858.5" y="362.5" width="9.0" height="69.0" fill="#d99dca" stroke="#454545" stroke-width="0.75"/>
<path d="M2858.5 388.5H2867.5" stroke="#454545" stroke-width="0.75"/>
<path d="M2873.5 372.5V326.5M2871.5 326.5H2876.5M2873.5 435.5V518.5M2871.5 518.5H2876.5" stroke="#454545" stroke-width="0.75" stroke-linecap="square" fill="none"/>
<rect x="2869.5" y="372.5" width="9.0" height="63.0" fill="#d99dc9" stroke="#454545" stroke-width="0.75"/>
<path d="M2869.5 386.5H2878.5" stroke="#454545" stroke-width="0.75"/>
<path d="M2884.5 368.5V325.5M2882.5 325.5H2886.5M2884.5 439.5V519.5M2882.5 519.5H2886.5" stroke="#454545" stroke-width="0.75" stroke-linecap="square" fill="none"/>
<rect x="2880.5" y="368.5" width="9.0" height="71.0" fill="#d99dc8" stroke="#454545" stroke-width="0.75"/>
<path d="M2880.5 403.5H2889.5" stroke="#454545" stroke-width="0.75"/>
<path d="M2895.5 363.5V319.5M2893.5 319.5H2897.5M2895.5 444.5V503.5M2893.5 503.5H2897.5" stroke="#454545" stroke-width="0.75" stroke-linecap="square" fill="none"/>
<rect x="2891.5" y="363.5" width="8.0" height="81.0" fill="#d99dc7" stroke="#454545" stroke-width="0.75"/>
<path d="M2891.5 407.5H2899.5" stroke="#454545" stroke-width="0.75"/>
<path d="M2906.5 372.5V328.5M2904.5 328.5H2908.5M2906.5 441.5V514.5M2904.5 514.5H2908.5" stroke="#454545" stroke-width="0.75" stroke-linecap="square" fill="none"/>
<rect x="2901.5" y="372.5" width="9.0" height="69.0" fill="#d99ec6" stroke="#454545" stroke-width="0.75"/>
<path d="M2901.5 390.5H2910.5" stroke="#454545" stroke-width="0.75"/>
<path d="M2917.5 367.5V302.5M2914.5 302.5H2919.5M2917.5 447.5V502.5M2914.5 502.5H2919.5" stroke="#454545" stroke-width="0.75" stroke-linecap="square" fill="none"/>
<rect x="2912.5" y="367.5" width="9.0" height="80.0" fill="#d99ec5" stroke="#454545" stroke-width="0.75"/>
<path d="M2912.5 399.5H2921.5" stroke="#454545" stroke-width="0.75"/>
<path d="M2927.5 369.5V332.5M2925.5 332.5H2930.5M2927.5 454.5V503.5M2925.5 503.5H2930.5" stroke="#454545" stroke-width="0.75" stroke-linecap="square" fill="none"/>
<rect x="2923.5" y="369.5" width="9.0" height="85.0" fill="#d99ec4" stroke="#454545" stroke-width="0.75"/>
<path d="M2923.5 399.5H2932.5" stroke="#454545" stroke-width="0.75"/>
<path d="M2938.5 370.5V319.5M2936.5 319.5H2940.5M2938.5 451.5V522.5M2936.5 522.5H2940.5" stroke="#454545" stroke-width="0.75" stroke-linecap="square" fill="none"/>
<rect x="2934.5" y="370.5" width="9.0" height="81.0" fill="#d99fc3" stroke="#454545" stroke-width="0.75"/>
<path d="M2934.5 407.5H2943.5" stroke="#454545" stroke-width="0.75"/>
<path d="M2949.5 370.5V332.5M2947.5 332.5H2951.5M2949.5 437.5V515.5M2947.5 515.5H2951.5" stroke="#454545" stroke-width="0.75" stroke-linecap="square" fill="none"/>
<rect x="2945.5" y="370.5" width="8.0" height="67.0" fill="#d99fc2" stroke="#454545" stroke-width="0.75"/>
<path d="M2945.5 393.5H2953.5" stroke="#454545" stroke-width="0.75"/>
<path d="M2960.5 372.5V347.5M2958.5 347.5H2962.5M2960.5 455.5V514.5M2958.5 514.5H2962.5" stroke="#454545" stroke-width="0.75" stroke-linecap="square" fill="none"/>
<rect x="2955.5" y="372.5" width="9.0" height="83.0" fill="#da9fc2" stroke="#454545" stroke-width="0.75"/>
<path d="M2955.5 406.5H2964.5" stroke="#454545" stroke-width="0.75"/>
<path d="M2971.5 378.5V350.5M2968.5 350.5H2973.5M2971.5 458.5V530.5M2968.5 530.5H2973.5" stroke="#454545" stroke-width="0.75" stroke-linecap="square" fill="none"/>
<rect x="2966.5" y="378.5" width="9.0" height="80.0" fill="#da9fc1" stroke="#454545" stroke-width="0.75"/>
<path d="M2966.5 400.5H2975.5" stroke="#454545" stroke-width="0.75"/>
<path d="M2981.5 371.5V302.5M2979.5 302.5H2984.5M2981.5 458.5V532.5M2979.5 532.5H2984.5" stroke="#454545" stroke-width="0.75" stroke-linecap="square" fill="none"/>
<rect x="2977.5" y="371.5" width="9.0" height="87.0" fill="#da9fc0" stroke="#454545" stroke-width="0.75"/>
<path d="M2977.5 415.5H2986.5" stroke="#454545" stroke-width="0.75"/>
<path d="M2992.5 374.5V285.5M2990.5 285.5H2994.5M2992.5 464.5V530.5M2990.5 530.5H2994.5" stroke="#454545" stroke-width="0.75" stroke-linecap="square" fill="none"/>
<rect x="2988.5" y="374.5" width="9.0" height="90.0" fill="#daa0bf" stroke="#454545" stroke-width="0.75"/>
<path d="M2988.5 403.5H2997.5" stroke="#454545" stroke-width="0.75"/>
<path d="M3003.5 378.5V294.5M3001.5 294.5H3005.5M3003.5 478.5V537.5M3001.5 537.5H3005.5" stroke="#454545" stroke-width="0.75" stroke-linecap="square" fill="none"/>
<rect x="2999.5" y="378.5" width="8.0" height="100.0" fill="#daa0be" stroke="#454545" stroke-width="0.75"/>
<path d="M2999.5 408.5H3007.5" stroke="#454545" stroke-width="0.75"/>
<path d="M3014.5 380.5V331.5M3012.5 331.5H3016.5M3014.5 467.5V540.5M3012.5 540.5H3016.5" stroke="#454545" stroke-width="0.75" stroke-linecap="square" fill="none"/>
<rect x="3009.5" y="380.5" width="9.0" height="87.0" fill="#daa0bd" stroke="#454545" stroke-width="0.75"/>
<path d="M3009.5 412.5H3018.5" stroke="#454545" stroke-width="0.75"/>
<path d="M3025.5 365.5V354.5M3022.5 354.5H3027.5M3025.5 476.5V545.5M3022.5 545.5H3027.5" stroke="#454545" stroke-width="0.75" stroke-linecap="square" fill="none"/>
<rect x="3020.5" y="365.5" width="9.0" height="111.0" fill="#daa0bd" stroke="#454545" stroke-width="0.75"/>
<path d="M3020.5 394.5H3029.5" stroke="#454545" stroke-width="0.75"/>
<path d="M3035.5 382.5V298.5M3033.5 298.5H3038.5M3035.5 474.5V545.5M3033.5 545.5H3038.5" stroke="#454545" stroke-width="0.75" stroke-linecap="square" fill="none"/>
<rect x="3031.5" y="382.5" width="9.0" height="92.0" fill="#daa1bc" stroke="#454545" stroke-width="0.75"/>
<path d="M3031.5 417.5H3040.5" stroke="#454545" stroke-width="0.75"/>
<path d="M3046.5 386.5V315.5M3044.5 315.5H3048.5M3046.5 472.5V543.5M3044.5 543.5H3048.5" stroke="#454545" stroke-width="0.75" stroke-linecap="square" fill="none"/>
<rect x="3042.5" y="386.5" width="9.0" height="86.0" fill="#daa1bb" stroke="#454545" stroke-width="0.75"/>
<path d="M3042.5 419.5H3051.5" stroke="#454545" stroke-width="0.75"/>
<path d="M3057.5 386.5V312.5M3055.5 312.5H3059.5M3057.5 478.5V546.5M3055.5 546.5H3059.5" stroke="#454545" stroke-width="0.75" stroke-linecap="square" fill="none"/>
<rect x="3053.5" y="386.5" width="8.0" height="92.0" fill="#daa1ba" stroke="#454545" stroke-width="0.75"/>
<path d="M3053.5 419.5H3061.5" stroke="#454545" stroke-width="0.75"/>
<path d="M3068.5 391.5V334.5M3066.5 334.5H3070.5M3068.5 476.5V550.5M3066.5 550.5H3070.5" stroke="#454545" stroke-width="0.75" stroke-linecap="square" fill="none"/>
<rect x="3063.5" y="391.5" width="9.0" height="85.0" fill="#daa1b9" stroke="#454545" stroke-width="0.75"/>
<path d="M3063.5 423.5H3072.5" stroke="#454545" stroke-width="0.75"/>
<path d="M3079.5 400.5V331.5M3076.5 331.5H3081.5M3079.5 488.5V550.5M3076.5 550.5H3081.5" stroke="#454545" stroke-width="0.75" stroke-linecap="square" fill="none"/>
<rect x="3074.5" y="400.5" width="9.0" height="88.0" fill="#dba1b8" stroke="#454545" stroke-width="0.75"/>
<path d="M3074.5 431.5H3083.5" stroke="#454545" stroke-width="0.75"/>
<path d="M3089.5 399.5V349.5M3087.5 349.5H3092.5M3089.5 497.5V552.5M3087.5 552.5H3092.5" stroke="#454545" stroke-width="0.75" stroke-linecap="square" fill="none"/>
<rect x="3085.5" y="399.5" width="9.0" height="98.0" fill="#dba2b8" stroke="#454545" stroke-width="0.75"/>
<path d="M3085.5 435.5H3094.5" stroke="#454545" stroke-width="0.75"/>
<path d="M3100.5 385.5V359.5M3098.5 359.5H3102.5M3100.5 500.5V553.5M3098.5 553.5H3102.5" stroke="#454545" stroke-width="0.75" stroke-linecap="square" fill="none"/>
<rect x="3096.5" y="385.5" width="9.0" height="115.0" fill="#dba2b7" stroke="#454545" stroke-width="0.75"/>
<path d="M3096.5 441.5H3105.5" stroke="#454545" stroke-width="0.75"/>
<path d="M3111.5 414.5V342.5M3109.5 342.5H3113.5M3111.5 509.5V553.5M3109.5 553.5H3113.5" stroke="#454545" stroke-width="0.75" stroke-linecap="square" fill="none"/>
<rect x="3107.5" y="414.5" width="8.0" height="95.0" fill="#dba2b6" stroke="#454545" stroke-width="0.75"/>
<path d="M3107.5 449.5H3115.5" stroke="#454545" stroke-width="0.75"/>
<path d="M3122.5 405.5V345.5M3120.5 345.5H3124.5M3122.5 517.5V556.5M3120.5 556.5H3124.5" stroke="#454545" stroke-width="0.75" stroke-linecap="square" fill="none"/>
<rect x="3117.5" y="405.5" width="9.0" height="112.0" fill="#dba2b5" stroke="#454545" stroke-width="0.75"/>
<path d="M3117.5 454.5H3126.5" stroke="#454545" stroke-width="0.75"/>
<path d="M3133.5 412.5V346.5M3130.5 346.5H3135.5M3133.5 507.5V558.5M3130.5 558.5H3135.5" stroke="#454545" stroke-width="0.75" stroke-linecap="square" fill="none"/>
<rect x="3128.5" y="412.5" width="9.0" height="95.0" fill="#dba2b4" stroke="#454545" stroke-width="0.75"/>
<path d="M3128.5 453.5H3137.5" stroke="#454545" stroke-width="0.75"/>
<path d="M3143.5 418.5V365.5M3141.5 365.5H3146.5M3143.5 512.5V554.5M3141.5 554.5H3146.5" stroke="#454545" stroke-width="0.75" stroke-linecap="square" fill="none"/>
<rect x="3139.5" y="418.5" width="9.0" height="94.0" fill="#dba3b3" stroke="#454545" stroke-width="0.75"/>
<path d="M3139.5 469.5H3148.5" stroke="#454545" stroke-width="0.75"/>
<path d="M3154.5 436.5V362.5M3152.5 362.5H3156.5M3154.5 529.5V557.5M3152.5 557.5H3156.5" stroke="#454545" stroke-width="0.75" stroke-linecap="square" fill="none"/>
<rect x="3150.5" y="436.5" width="9.0" height="93.0" fill="#dba3b2" stroke="#454545" stroke-width="0.75"/>
<path d="M3150.5 481.5H3159.5" stroke="#454545" stroke-width="0.75"/>
<path d="M3165.5 431.5V326.5M3163.5 326.5H3167.5M3165.5 536.5V561.5M3163.5 561.5H3167.5" stroke="#454545" stroke-width="0.75" stroke-linecap="square" fill="none"/>
<rect x="3161.5" y="431.5" width="8.0" height="105.0" fill="#dba3b1" stroke="#454545" stroke-width="0.75"/>
<path d="M3161.5 484.5H3169.5" stroke="#454545" stroke-width="0.75"/>
<path d="M3176.5 439.5V367.5M3174.5 367.5H3178.5M3176.5 545.5V564.5M3174.5 564.5H3178.5" stroke="#454545" stroke-width="0.75" stroke-linecap="square" fill="none"/>
<rect x="3171.5" y="439.5" width="9.0" height="106.0" fill="#dba3b0" stroke="#454545" stroke-width="0.75"/>
<path d="M3171.5 507.5H3180.5" stroke="#454545" stroke-width="0.75"/>
<path d="M3187.5 453.5V384.5M3184.5 384.5H3189.5M3187.5 548.5V564.5M3184.5 564.5H3189.5" stroke="#454545" stroke-width="0.75" stroke-linecap="square" fill="none"/>
<rect x="3182.5" y="453.5" width="9.0" height="95.0" fill="#dba3af" stroke="#454545" stroke-width="0.75"/>
<path d="M3182.5 507.5H3191.5" stroke="#454545" stroke-width="0.75"/>
<path d="M3197.5 509.5V506.5M3195.5 506.5H3200.5M3197.5 543.5V564.5M3195.5 564.5H3200.5" stroke="#454545" stroke-width="0.75" stroke-linecap="square" fill="none"/>
<rect x="3193.5" y="509.5" width="9.0" height="34.0" fill="#dca4ae" stroke="#454545" stroke-width="0.75"/>
<path d="M3193.5 520.5H3202.5" stroke="#454545" stroke-width="0.75"/>
<path d="M3197.91 445.95L3201.01 451.15L3197.91 456.35L3194.81 451.15Z" fill="#454545" stroke="#454545" stroke-width="0.8" stroke-linejoin="round"/>
<polyline points="97.45,559.80 108.25,563.59 119.06,561.20 129.86,562.23 140.66,562.57 151.47,564.27 162.27,564.27 173.07,564.27 183.87,564.27 194.68,564.27 205.48,564.27 216.28,564.27 227.09,564.27 237.89,563.59 248.69,562.91 259.50,561.89 270.30,560.86 281.10,560.18 291.90,558.14 302.71,559.16 313.51,560.18 324.31,559.16 335.12,560.18 345.92,559.16 356.72,557.46 367.53,558.48 378.33,560.18 389.13,556.10 399.93,554.06 410.74,554.06 421.54,554.06 432.34,554.06 443.15,554.06 453.95,556.78 464.75,560.18 475.56,556.44 486.36,556.44 497.16,556.44 507.96,560.18 518.77,560.18 529.57,555.08 540.37,558.53 551.18,550.79 561.98,551.27 572.78,551.27 583.59,551.27 594.39,549.10 605.19,552.00 615.99,550.79 626.80,551.27 637.60,551.27 648.40,551.27 659.21,550.06 670.01,556.11 680.81,552.48 691.62,550.06 702.42,552.72 713.22,548.85 724.02,552.72 734.83,550.06 745.63,552.72 756.43,551.76 767.24,552.24 778.04,548.85 788.84,550.55 799.65,551.27 810.45,546.92 821.25,550.06 832.05,546.92 842.86,544.74 853.66,537.48 864.46,542.81 875.27,533.13 886.07,530.23 896.87,533.13 907.68,537.48 918.48,527.81 929.28,529.99 940.08,534.82 950.89,530.47 961.69,529.71 972.49,524.06 983.30,523.52 994.10,526.75 1004.90,522.18 1015.71,511.42 1026.51,512.77 1037.31,512.77 1048.11,515.46 1058.92,511.42 1069.72,501.20 1080.52,499.32 1091.33,489.91 1102.13,492.60 1112.93,490.45 1123.74,493.14 1134.54,497.17 1145.34,490.45 1156.14,486.42 1166.95,472.43 1177.75,475.12 1188.55,466.25 1199.36,458.99 1210.16,438.28 1220.96,440.17 1231.77,460.33 1242.57,450.12 1253.37,454.96 1264.17,454.42 1274.98,442.32 1285.78,436.13 1296.58,432.62 1307.39,435.20 1318.19,432.29 1328.99,437.46 1339.80,439.07 1350.60,451.98 1361.40,422.93 1372.20,436.81 1383.01,445.53 1393.81,439.72 1404.61,454.56 1415.42,465.53 1426.22,469.73 1437.02,476.19 1447.83,469.73 1458.63,465.86 1469.43,476.83 1480.23,491.35 1491.04,477.80 1501.84,469.73 1512.64,481.03 1523.45,489.74 1534.25,484.90 1545.05,490.71 1555.86,492.32 1566.66,488.13 1577.46,489.09 1588.26,483.61 1599.07,500.39 1609.87,501.96 1620.67,507.74 1631.48,507.74 1642.28,502.34 1653.08,510.82 1663.89,509.28 1674.69,507.74 1685.49,514.68 1696.29,516.61 1707.10,509.28 1717.90,506.20 1728.70,513.14 1739.51,510.44 1750.31,509.28 1761.11,520.85 1771.92,512.37 1782.72,502.73 1793.52,508.90 1804.32,512.75 1815.13,507.36 1825.93,503.11 1836.73,495.40 1847.54,486.54 1858.34,471.50 1869.14,477.29 1879.95,482.68 1890.75,461.09 1901.55,475.74 1912.35,476.90 1923.16,468.42 1933.96,459.28 1944.76,483.43 1955.57,474.96 1966.37,457.72 1977.17,448.31 1987.98,460.22 1998.78,465.56 2009.58,458.66 2020.38,472.45 2031.19,464.61 2041.99,461.48 2052.79,452.07 2063.60,437.33 2074.40,421.65 2085.20,432.63 2096.01,429.49 2106.81,436.39 2117.61,425.73 2128.41,430.43 2139.22,441.41 2150.02,442.04 2160.82,444.23 2171.63,436.71 2182.43,409.74 2193.23,406.60 2204.03,421.65 2214.84,430.43 2225.64,439.84 2236.44,433.57 2247.25,442.66 2258.05,440.20 2268.85,457.98 2279.66,459.70 2290.46,446.51 2301.26,466.58 2312.07,473.18 2322.87,468.88 2333.67,468.30 2344.47,449.38 2355.28,458.27 2366.08,457.41 2376.88,461.42 2387.69,465.15 2398.49,447.94 2409.29,473.75 2420.09,470.88 2430.90,457.41 2441.70,460.27 2452.50,463.14 2463.31,454.25 2474.11,462.28 2484.91,459.41 2495.72,456.55 2506.52,468.88 2517.32,461.71 2528.12,466.01 2538.93,473.18 2549.73,466.58 2560.53,457.41 2571.34,455.97 2582.14,438.91 2592.94,453.97 2603.75,464.01 2614.55,449.89 2625.35,465.26 2636.16,463.38 2646.96,461.50 2657.76,440.48 2668.56,457.11 2679.37,460.87 2690.17,457.11 2700.97,451.46 2711.78,448.32 2722.58,452.09 2733.38,452.09 2744.18,450.21 2754.99,459.30 2765.79,452.40 2776.59,453.03 2787.40,459.30 2798.20,457.11 2809.00,468.71 2819.81,468.71 2830.61,460.24 2841.41,472.16 2852.22,458.99 2863.02,462.44 2873.82,469.65 2884.62,468.71 2895.43,459.30 2906.23,485.26 2917.03,473.79 2927.84,486.12 2938.64,488.99 2949.44,491.86 2960.24,491.86 2971.05,489.56 2981.85,506.77 2992.65,519.67 3003.46,509.64 3014.26,513.94 3025.06,522.54 3035.87,521.11 3046.67,526.27 3057.47,533.15 3068.28,538.32 3079.08,542.04 3089.88,545.77 3100.68,553.23 3111.49,546.34 3122.29,551.22 3133.09,552.65 3143.90,554.37 3154.70,554.37 3165.50,554.09" fill="none" stroke="#0000ff" stroke-width="2.1" stroke-linejoin="round" stroke-linecap="square"/>
<line x1="140.0" x2="140.0" y1="54" y2="591" stroke="#4c72b0" stroke-width="2"/>
<line x1="1116.0" x2="1116.0" y1="54" y2="591" stroke="#4c72b0" stroke-width="2"/>
<line x1="2129.0" x2="2129.0" y1="54" y2="591" stroke="#4c72b0" stroke-width="2"/>
<line x1="2873.0" x2="2873.0" y1="54" y2="591" stroke="#4c72b0" stroke-width="2"/>
<line x1="3053.0" x2="3053.0" y1="54" y2="591" stroke="#4c72b0" stroke-width="2"/>
</g>
<text x="144.0" y="106" font-family='"Liberation Sans", sans-serif' font-size="17.5" fill="#262626">DM</text>
<text x="143.6" y="127.1" font-family='"Liberation Sans", sans-serif' font-size="17.5" fill="#262626">Set</text>
<text x="1120.0" y="106" font-family='"Liberation Sans", sans-serif' font-size="17.5" fill="#262626">PM</text>
<text x="1119.6" y="127.1" font-family='"Liberation Sans", sans-serif' font-size="17.5" fill="#262626">Set</text>
<text x="2133.0" y="106" font-family='"Liberation Sans", sans-serif' font-size="17.5" fill="#262626">JN</text>
<text x="2132.6" y="127.1" font-family='"Liberation Sans", sans-serif' font-size="17.5" fill="#262626">Set</text>
<text x="2877.0" y="106" font-family='"Liberation Sans", sans-serif' font-size="17.5" fill="#262626">FN</text>
<text x="2876.6" y="127.1" font-family='"Liberation Sans", sans-serif' font-size="17.5" fill="#262626">Set</text>
<text x="3057.0" y="106" font-family='"Liberation Sans", sans-serif' font-size="17.5" fill="#262626">EM</text>
<text x="3056.6" y="127.1" font-family='"Liberation Sans", sans-serif' font-size="17.5" fill="#262626">Set</text>
<text x="83.2" y="573.90" text-anchor="end" font-family='"Liberation Sans", sans-serif' font-size="15.8" fill="#262626">0</text>
<text x="83.2" y="492.23" text-anchor="end" font-family='"Liberation Sans", sans-serif' font-size="15.8" fill="#262626" textLength="46.8" lengthAdjust="spacingAndGlyphs">10000</text>
<text x="83.2" y="410.57" text-anchor="end" font-family='"Liberation Sans", sans-serif' font-size="15.8" fill="#262626" textLength="46.8" lengthAdjust="spacingAndGlyphs">20000</text>
<text x="83.2" y="328.90" text-anchor="end" font-family='"Liberation Sans", sans-serif' font-size="15.8" fill="#262626" textLength="46.8" lengthAdjust="spacingAndGlyphs">30000</text>
<text x="83.2" y="247.23" text-anchor="end" font-family='"Liberation Sans", sans-serif' font-size="15.8" fill="#262626" textLength="46.8" lengthAdjust="spacingAndGlyphs">40000</text>
<text x="83.2" y="165.56" text-anchor="end" font-family='"Liberation Sans", sans-serif' font-size="15.8" fill="#262626" textLength="46.8" lengthAdjust="spacingAndGlyphs">50000</text>
<text x="83.2" y="83.90" text-anchor="end" font-family='"Liberation Sans", sans-serif' font-size="15.8" fill="#262626" textLength="46.8" lengthAdjust="spacingAndGlyphs">60000</text>
<text transform="translate(100.95,660.2) rotate(-90)" font-family='"Liberation Sans", sans-serif' font-size="15.8" fill="#262626" textLength="53" lengthAdjust="spacingAndGlyphs">00:00Z</text>
<text transform="translate(165.77,660.2) rotate(-90)" font-family='"Liberation Sans", sans-serif' font-size="15.8" fill="#262626" textLength="53" lengthAdjust="spacingAndGlyphs">00:30Z</text>
<text transform="translate(230.59,660.2) rotate(-90)" font-family='"Liberation Sans", sans-serif' font-size="15.8" fill="#262626" textLength="53" lengthAdjust="spacingAndGlyphs">01:00Z</text>
<text transform="translate(295.40,660.2) rotate(-90)" font-family='"Liberation Sans", sans-serif' font-size="15.8" fill="#262626" textLength="53" lengthAdjust="spacingAndGlyphs">01:30Z</text>
<text transform="translate(360.22,660.2) rotate(-90)" font-family='"Liberation Sans", sans-serif' font-size="15.8" fill="#262626" textLength="53" lengthAdjust="spacingAndGlyphs">02:00Z</text>
<text transform="translate(425.04,660.2) rotate(-90)" font-family='"Liberation Sans", sans-serif' font-size="15.8" fill="#262626" textLength="53" lengthAdjust="spacingAndGlyphs">02:30Z</text>
<text transform="translate(489.86,660.2) rotate(-90)" font-family='"Liberation Sans", sans-serif' font-size="15.8" fill="#262626" textLength="53" lengthAdjust="spacingAndGlyphs">03:00Z</text>
<text transform="translate(554.68,660.2) rotate(-90)" font-family='"Liberation Sans", sans-serif' font-size="15.8" fill="#262626" textLength="53" lengthAdjust="spacingAndGlyphs">03:30Z</text>
<text transform="translate(619.49,660.2) rotate(-90)" font-family='"Liberation Sans", sans-serif' font-size="15.8" fill="#262626" textLength="53" lengthAdjust="spacingAndGlyphs">04:00Z</text>
<text transform="translate(684.31,660.2) rotate(-90)" font-family='"Liberation Sans", sans-serif' font-size="15.8" fill="#262626" textLength="53" lengthAdjust="spacingAndGlyphs">04:30Z</text>
<text transform="translate(749.13,660.2) rotate(-90)" font-family='"Liberation Sans", sans-serif' font-size="15.8" fill="#262626" textLength="53" lengthAdjust="spacingAndGlyphs">05:00Z</text>
<text transform="translate(813.95,660.2) rotate(-90)" font-family='"Liberation Sans", sans-serif' font-size="15.8" fill="#262626" textLength="53" lengthAdjust="spacingAndGlyphs">05:30Z</text>
<text transform="translate(878.77,660.2) rotate(-90)" font-family='"Liberation Sans", sans-serif' font-size="15.8" fill="#262626" textLength="53" lengthAdjust="spacingAndGlyphs">06:00Z</text>
<text transform="translate(943.58,660.2) rotate(-90)" font-family='"Liberation Sans", sans-serif' font-size="15.8" fill="#262626" textLength="53" lengthAdjust="spacingAndGlyphs">06:30Z</text>
<text transform="translate(1008.40,660.2) rotate(-90)" font-family='"Liberation Sans", sans-serif' font-size="15.8" fill="#262626" textLength="53" lengthAdjust="spacingAndGlyphs">07:00Z</text>
<text transform="translate(1073.22,660.2) rotate(-90)" font-family='"Liberation Sans", sans-serif' font-size="15.8" fill="#262626" textLength="53" lengthAdjust="spacingAndGlyphs">07:30Z</text>
<text transform="translate(1138.04,660.2) rotate(-90)" font-family='"Liberation Sans", sans-serif' font-size="15.8" fill="#262626" textLength="53" lengthAdjust="spacingAndGlyphs">08:00Z</text>
<text transform="translate(1202.86,660.2) rotate(-90)" font-family='"Liberation Sans", sans-serif' font-size="15.8" fill="#262626" textLength="53" lengthAdjust="spacingAndGlyphs">08:30Z</text>
<text transform="translate(1267.67,660.2) rotate(-90)" font-family='"Liberation Sans", sans-serif' font-size="15.8" fill="#262626" textLength="53" lengthAdjust="spacingAndGlyphs">09:00Z</text>
<text transform="translate(1332.49,660.2) rotate(-90)" font-family='"Liberation Sans", sans-serif' font-size="15.8" fill="#262626" textLength="53" lengthAdjust="spacingAndGlyphs">09:30Z</text>
<text transform="translate(1397.31,660.2) rotate(-90)" font-family='"Liberation Sans", sans-serif' font-size="15.8" fill="#262626" textLength="53" lengthAdjust="spacingAndGlyphs">10:00Z</text>
<text transform="translate(1462.13,660.2) rotate(-90)" font-family='"Liberation Sans", sans-serif' font-size="15.8" fill="#262626" textLength="53" lengthAdjust="spacingAndGlyphs">10:30Z</text>
<text transform="translate(1526.95,660.2) rotate(-90)" font-family='"Liberation Sans", sans-serif' font-size="15.8" fill="#262626" textLength="53" lengthAdjust="spacingAndGlyphs">11:00Z</text>
<text transform="translate(1591.76,660.2) rotate(-90)" font-family='"Liberation Sans", sans-serif' font-size="15.8" fill="#262626" textLength="53" lengthAdjust="spacingAndGlyphs">11:30Z</text>
<text transform="translate(1656.58,660.2) rotate(-90)" font-family='"Liberation Sans", sans-serif' font-size="15.8" fill="#262626" textLength="53" lengthAdjust="spacingAndGlyphs">12:00Z</text>
<text transform="translate(1721.40,660.2) rotate(-90)" font-family='"Liberation Sans", sans-serif' font-size="15.8" fill="#262626" textLength="53" lengthAdjust="spacingAndGlyphs">12:30Z</text>
<text transform="translate(1786.22,660.2) rotate(-90)" font-family='"Liberation Sans", sans-serif' font-size="15.8" fill="#262626" textLength="53" lengthAdjust="spacingAndGlyphs">13:00Z</text>
<text transform="translate(1851.04,660.2) rotate(-90)" font-family='"Liberation Sans", sans-serif' font-size="15.8" fill="#262626" textLength="53" lengthAdjust="spacingAndGlyphs">13:30Z</text>
<text transform="translate(1915.85,660.2) rotate(-90)" font-family='"Liberation Sans", sans-serif' font-size="15.8" fill="#262626" textLength="53" lengthAdjust="spacingAndGlyphs">14:00Z</text>
<text transform="translate(1980.67,660.2) rotate(-90)" font-family='"Liberation Sans", sans-serif' font-size="15.8" fill="#262626" textLength="53" lengthAdjust="spacingAndGlyphs">14:30Z</text>
<text transform="translate(2045.49,660.2) rotate(-90)" font-family='"Liberation Sans", sans-serif' font-size="15.8" fill="#262626" textLength="53" lengthAdjust="spacingAndGlyphs">15:00Z</text>
<text transform="translate(2110.31,660.2) rotate(-90)" font-family='"Liberation Sans", sans-serif' font-size="15.8" fill="#262626" textLength="53" lengthAdjust="spacingAndGlyphs">15:30Z</text>
<text transform="translate(2175.13,660.2) rotate(-90)" font-family='"Liberation Sans", sans-serif' font-size="15.8" fill="#262626" textLength="53" lengthAdjust="spacingAndGlyphs">16:00Z</text>
<text transform="translate(2239.94,660.2) rotate(-90)" font-family='"Liberation Sans", sans-serif' font-size="15.8" fill="#262626" textLength="53" lengthAdjust="spacingAndGlyphs">16:30Z</text>
<text transform="translate(2304.76,660.2) rotate(-90)" font-family='"Liberation Sans", sans-serif' font-size="15.8" fill="#262626" textLength="53" lengthAdjust="spacingAndGlyphs">17:00Z</text>
<text transform="translate(2369.58,660.2) rotate(-90)" font-family='"Liberation Sans", sans-serif' font-size="15.8" fill="#262626" textLength="53" lengthAdjust="spacingAndGlyphs">17:30Z</text>
<text transform="translate(2434.40,660.2) rotate(-90)" font-family='"Liberation Sans", sans-serif' font-size="15.8" fill="#262626" textLength="53" lengthAdjust="spacingAndGlyphs">18:00Z</text>
<text transform="translate(2499.22,660.2) rotate(-90)" font-family='"Liberation Sans", sans-serif' font-size="15.8" fill="#262626" textLength="53" lengthAdjust="spacingAndGlyphs">18:30Z</text>
<text transform="translate(2564.03,660.2) rotate(-90)" font-family='"Liberation Sans", sans-serif' font-size="15.8" fill="#262626" textLength="53" lengthAdjust="spacingAndGlyphs">19:00Z</text>
<text transform="translate(2628.85,660.2) rotate(-90)" font-family='"Liberation Sans", sans-serif' font-size="15.8" fill="#262626" textLength="53" lengthAdjust="spacingAndGlyphs">19:30Z</text>
<text transform="translate(2693.67,660.2) rotate(-90)" font-family='"Liberation Sans", sans-serif' font-size="15.8" fill="#262626" textLength="53" lengthAdjust="spacingAndGlyphs">20:00Z</text>
<text transform="translate(2758.49,660.2) rotate(-90)" font-family='"Liberation Sans", sans-serif' font-size="15.8" fill="#262626" textLength="53" lengthAdjust="spacingAndGlyphs">20:30Z</text>
<text transform="translate(2823.31,660.2) rotate(-90)" font-family='"Liberation Sans", sans-serif' font-size="15.8" fill="#262626" textLength="53" lengthAdjust="spacingAndGlyphs">21:00Z</text>
<text transform="translate(2888.12,660.2) rotate(-90)" font-family='"Liberation Sans", sans-serif' font-size="15.8" fill="#262626" textLength="53" lengthAdjust="spacingAndGlyphs">21:30Z</text>
<text transform="translate(2952.94,660.2) rotate(-90)" font-family='"Liberation Sans", sans-serif' font-size="15.8" fill="#262626" textLength="53" lengthAdjust="spacingAndGlyphs">22:00Z</text>
<text transform="translate(3017.76,660.2) rotate(-90)" font-family='"Liberation Sans", sans-serif' font-size="15.8" fill="#262626" textLength="53" lengthAdjust="spacingAndGlyphs">22:30Z</text>
<text transform="translate(3082.58,660.2) rotate(-90)" font-family='"Liberation Sans", sans-serif' font-size="15.8" fill="#262626" textLength="53" lengthAdjust="spacingAndGlyphs">23:00Z</text>
<text transform="translate(3147.40,660.2) rotate(-90)" font-family='"Liberation Sans", sans-serif' font-size="15.8" fill="#262626" textLength="53" lengthAdjust="spacingAndGlyphs">23:30Z</text>
<text x="1647" y="24" text-anchor="middle" font-family='"Liberation Sans", sans-serif' font-size="17.2" fill="#262626" textLength="526" lengthAdjust="spacingAndGlyphs">Comparison of Spot Counts on 2025.12.20 to Previous 21 Days</text>
<text x="1647.4" y="44.6" text-anchor="middle" font-family='"Liberation Sans", sans-serif' font-size="17.2" fill="#262626" textLength="37" lengthAdjust="spacingAndGlyphs">10m</text>
<text x="1646.5" y="680.8" text-anchor="middle" font-family='"Liberation Sans", sans-serif' font-size="21.2" fill="#262626" textLength="126" lengthAdjust="spacingAndGlyphs">Time of Day</text>
<text transform="translate(24.9,321.7) rotate(-90)" text-anchor="middle" font-family='"Liberation Sans", sans-serif' font-size="21.2" fill="#262626" textLength="115" lengthAdjust="spacingAndGlyphs">Spot Count</text>
</svg>
</body></html>
